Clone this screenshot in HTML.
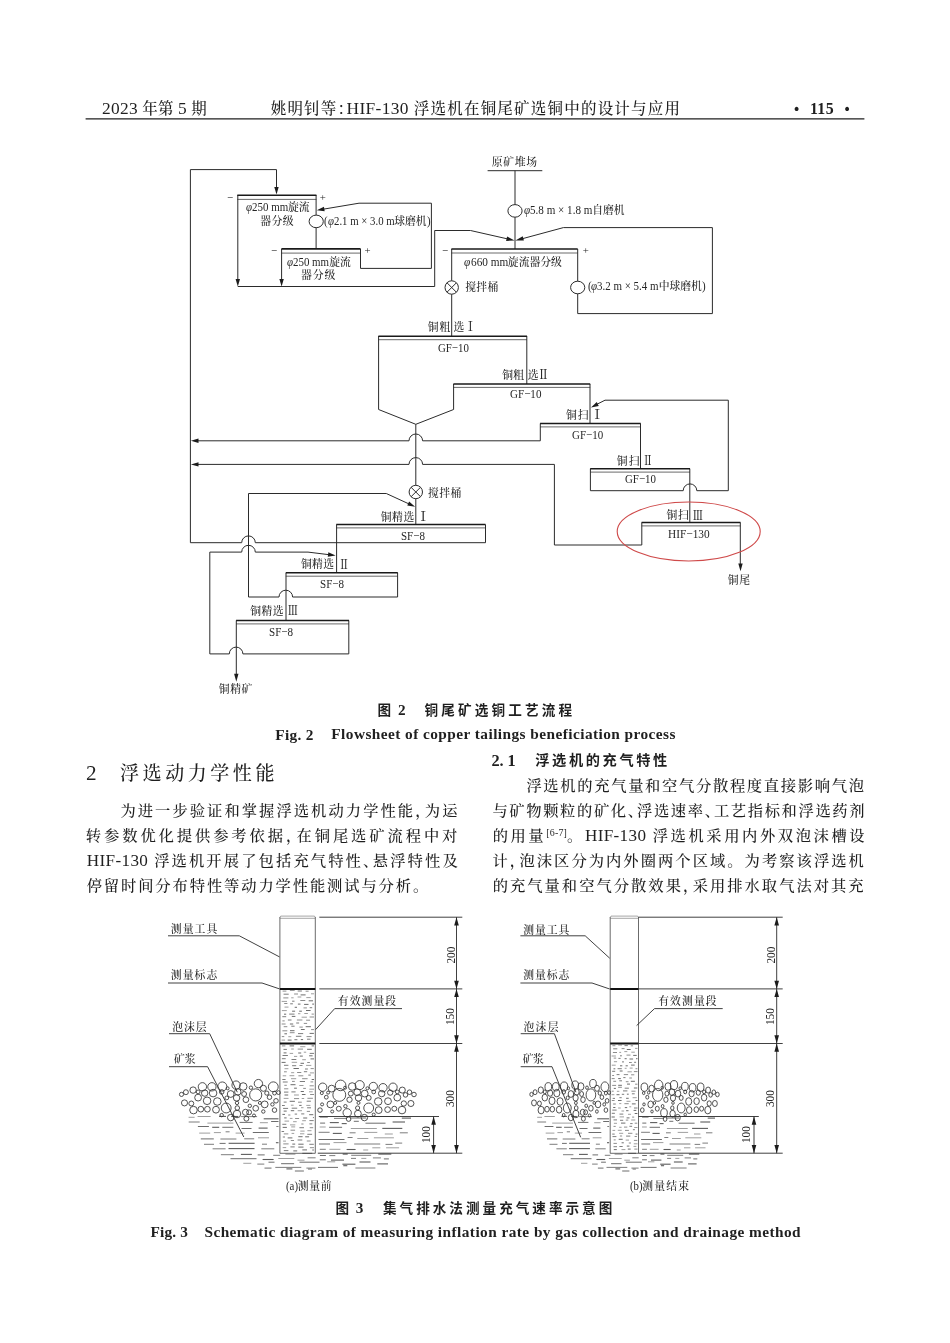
<!DOCTYPE html>
<html lang="zh-CN">
<head>
<meta charset="utf-8">
<title>HIF-130 浮选机在铜尾矿选铜中的设计与应用</title>
<style>
html,body{margin:0;padding:0;background:#fff;}
body{width:950px;height:1343px;position:relative;overflow:hidden;}
#page{position:absolute;left:0;top:0;width:950px;height:1343px;will-change:transform;}
svg{position:absolute;left:0;top:0;}

.t{position:absolute;white-space:nowrap;line-height:1;margin:0;color:#1f1f1f;}
.song{font-family:"Liberation Serif","Noto Serif CJK SC",serif;font-weight:500;}
.hei{font-family:"Liberation Serif","Noto Sans CJK SC",sans-serif;font-weight:bold;}
.serb{font-family:"Liberation Serif","Noto Serif CJK SC",serif;font-weight:bold;}
.h{font-feature-settings:"halt";}
sup{font-size:58%;line-height:0;vertical-align:0.55em;}
.la{font-size:1.12em;line-height:0;}
.lf{letter-spacing:0.02em;}
.lab{color:#262626;}
.lab .la{font-size:1.15em;display:inline-block;white-space:pre;letter-spacing:0;transform-origin:0 50%;}
i{font-style:italic;}
</style>
</head>
<body>
<div id="page">
<!-- running header -->
<div class="t song" style="left:101.95px;top:101.20px;font-size:15.5px;letter-spacing:0.300px;"><span class="la lf">2023</span> 年第 <span class="la lf">5</span> 期</div>
<div class="t song" style="left:270.70px;top:101.20px;font-size:15.5px;letter-spacing:1.210px;">姚明钊等<span class="h">：</span><span class="la lf">HIF-130</span> 浮选机在铜尾矿选铜中的设计与应用</div>
<div class="t serb" style="left:792.40px;top:98.60px;font-size:22px;"><span class="la">·</span></div>
<div class="t serb" style="left:809.90px;top:101.60px;font-size:14.2px;letter-spacing:0.400px;"><span class="la">115</span></div>
<div class="t serb" style="left:842.90px;top:98.60px;font-size:22px;"><span class="la">·</span></div>
<!-- figure 2: flowsheet -->
<svg width="950" height="700" viewBox="0 0 950 700">
<line x1="85.6" y1="118.8" x2="864.4" y2="118.8" stroke="#1f1f1f" stroke-width="1.3"/>
<g fill="none" stroke="#2b2b2b" stroke-width="1" stroke-linejoin="miter">
<path d="M485.5,524.5 V542.7 H255.30 A6.80,6.80 0 0 0 241.70,542.7 H190.4 V169.6 H276.5 V190 M237.8,195 V282 M316.1,195 V215.2 M316.1,227.6 V248.5 M360.5,249 V268.4 H431.4 V203.2 H359 L322,209.4 M281.6,249 V282 M237.8,286.5 H434.7 V230.5 H470.5 L508,239 M487.6,170.7 H542.3 M515,170.7 V204.6 M515,217.2 V249 M577.7,249 V281.2 M577.7,293.8 V313.6 H712.4 V227.6 H563.4 L522,238.8 M451.7,249 V280.8 M451.7,294.2 V336 M378.6,336 V409.5 L415.8,424.3 L453.6,409.5 V384 M526.8,336 V384 M590,384 V423 M540.3,423.5 V440.8 H422.60 A6.80,6.80 0 0 0 409.00,440.8 H197 M640.5,423.5 V468.4 M590.4,468.7 V490.7 H683.20 A6.80,6.80 0 0 1 696.80,490.7 H728.3 V400.2 H605 L595.5,405 M689.8,468.7 V522 M641.8,522.5 V545 H554.4 V464.4 H422.60 A6.80,6.80 0 0 0 409.00,464.4 H197 M740.3,522.5 V566 M415.8,424.3 V485.3 M415.8,498.7 V524 M336.6,524.5 V572.5 M397.6,572.8 V597 H292.60 A6.80,6.80 0 0 0 279.00,597 H248.5 V493.5 H386.3 L410,504.4 M286,572.8 V620 M348.8,620.5 V653.9 H242.90 A6.80,6.80 0 0 0 229.30,653.9 H209.8 V552.1 H241.70 A6.80,6.80 0 0 1 255.30,552.1 H308 L330,554.8 M236.3,620.5 V676"/>
<ellipse cx="316.2" cy="221.4" rx="7.1" ry="6.3"/>
<ellipse cx="515" cy="210.9" rx="7.1" ry="6.3"/>
<ellipse cx="577.7" cy="287.5" rx="7.1" ry="6.3"/>
<circle cx="451.7" cy="287.5" r="6.7"/><path d="M447,282.8 L456.4,292.2 M456.4,282.8 L447,292.2"/>
<circle cx="415.8" cy="492" r="6.7"/><path d="M411.1,487.3 L420.5,496.7 M420.5,487.3 L411.1,496.7"/>
</g>
<line x1="237.30" y1="195.20" x2="316.40" y2="195.20" stroke="#1a1a1a" stroke-width="1.6"/><line x1="237.30" y1="199.40" x2="316.40" y2="199.40" stroke="#2b2b2b" stroke-width="0.7"/>
<line x1="281.40" y1="248.90" x2="360.60" y2="248.90" stroke="#1a1a1a" stroke-width="1.6"/><line x1="281.40" y1="253.10" x2="360.60" y2="253.10" stroke="#2b2b2b" stroke-width="0.7"/>
<line x1="451.40" y1="249.00" x2="577.70" y2="249.00" stroke="#1a1a1a" stroke-width="1.6"/><line x1="451.40" y1="253.00" x2="577.70" y2="253.00" stroke="#2b2b2b" stroke-width="0.7"/>
<line x1="378.40" y1="336.30" x2="527.00" y2="336.30" stroke="#1a1a1a" stroke-width="1.6"/><line x1="378.40" y1="339.70" x2="527.00" y2="339.70" stroke="#2b2b2b" stroke-width="0.7"/>
<line x1="453.40" y1="384.00" x2="590.20" y2="384.00" stroke="#1a1a1a" stroke-width="1.6"/><line x1="453.40" y1="387.40" x2="590.20" y2="387.40" stroke="#2b2b2b" stroke-width="0.7"/>
<line x1="540.10" y1="423.50" x2="640.70" y2="423.50" stroke="#1a1a1a" stroke-width="1.6"/><line x1="540.10" y1="426.90" x2="640.70" y2="426.90" stroke="#2b2b2b" stroke-width="0.7"/>
<line x1="590.20" y1="468.70" x2="690.00" y2="468.70" stroke="#1a1a1a" stroke-width="1.6"/><line x1="590.20" y1="472.10" x2="690.00" y2="472.10" stroke="#2b2b2b" stroke-width="0.7"/>
<line x1="641.60" y1="522.50" x2="740.50" y2="522.50" stroke="#1a1a1a" stroke-width="1.6"/><line x1="641.60" y1="525.90" x2="740.50" y2="525.90" stroke="#2b2b2b" stroke-width="0.7"/>
<line x1="336.30" y1="524.50" x2="485.50" y2="524.50" stroke="#1a1a1a" stroke-width="1.6"/><line x1="336.30" y1="527.90" x2="485.50" y2="527.90" stroke="#2b2b2b" stroke-width="0.7"/>
<line x1="285.80" y1="572.80" x2="397.80" y2="572.80" stroke="#1a1a1a" stroke-width="1.6"/><line x1="285.80" y1="576.20" x2="397.80" y2="576.20" stroke="#2b2b2b" stroke-width="0.7"/>
<line x1="236.10" y1="620.50" x2="349.00" y2="620.50" stroke="#1a1a1a" stroke-width="1.6"/><line x1="236.10" y1="623.90" x2="349.00" y2="623.90" stroke="#2b2b2b" stroke-width="0.7"/>
<polygon points="276.50,194.60 274.30,187.00 278.70,187.00" fill="#1c1c1c"/>
<polygon points="237.80,286.50 235.60,278.90 240.00,278.90" fill="#1c1c1c"/>
<polygon points="316.80,210.30 323.93,206.87 324.66,211.21" fill="#1c1c1c"/>
<polygon points="281.60,286.50 279.40,278.90 283.80,278.90" fill="#1c1c1c"/>
<polygon points="514.60,240.50 506.09,240.93 507.11,236.44" fill="#1c1c1c"/>
<polygon points="515.40,240.50 522.72,236.15 523.92,240.59" fill="#1c1c1c"/>
<polygon points="190.90,440.80 198.50,438.60 198.50,443.00" fill="#1c1c1c"/>
<polygon points="591.00,407.40 596.75,401.97 598.76,405.88" fill="#1c1c1c"/>
<polygon points="190.90,464.40 198.50,462.20 198.50,466.60" fill="#1c1c1c"/>
<polygon points="740.50,571.30 738.30,563.50 742.70,563.50" fill="#1c1c1c"/>
<polygon points="415.10,506.80 407.28,505.61 409.12,501.62" fill="#1c1c1c"/>
<polygon points="335.60,555.40 327.79,556.68 328.31,552.31" fill="#1c1c1c"/>
<polygon points="236.30,681.80 234.10,673.80 238.50,673.80" fill="#1c1c1c"/>
<ellipse cx="688.7" cy="531.5" rx="71.5" ry="29.5" fill="none" stroke="#cf4a4a" stroke-width="1.1"/>
</svg>
<div class="t song lab" style="left:491.70px;top:156.50px;font-size:10.8px;letter-spacing:0.733px;">原矿堆场</div>
<div class="t song lab" style="left:523.70px;top:205.20px;font-size:10.8px;"><i><span class="la" style="width:6.15px;transform:scaleX(0.8950)">φ</span></i><span class="la" style="width:62.40px;transform:scaleX(0.8950)">5.8 m × 1.8 m</span>自磨机</div>
<div class="t song lab" style="left:245.75px;top:202.30px;font-size:10.8px;"><i><span class="la" style="width:6.06px;transform:scaleX(0.8820)">φ</span></i><span class="la" style="width:36.18px;transform:scaleX(0.8820)">250 mm</span>旋流</div>
<div class="t song lab" style="left:260.20px;top:215.80px;font-size:10.8px;letter-spacing:0.500px;">器分级</div>
<div class="t song lab" style="left:324.05px;top:215.50px;font-size:10.8px;"><span class="la" style="width:3.60px;transform:scaleX(0.8694)">(</span><i><span class="la" style="width:5.98px;transform:scaleX(0.8694)">φ</span></i><span class="la" style="width:60.61px;transform:scaleX(0.8694)">2.1 m × 3.0 m</span>球磨机<span class="la" style="width:3.60px;transform:scaleX(0.8694)">)</span></div>
<div class="t song lab" style="left:287.00px;top:256.50px;font-size:10.8px;"><i><span class="la" style="width:6.05px;transform:scaleX(0.8800)">φ</span></i><span class="la" style="width:36.09px;transform:scaleX(0.8800)">250 mm</span>旋流</div>
<div class="t song lab" style="left:301.00px;top:270.20px;font-size:10.8px;letter-spacing:1.000px;">器分级</div>
<div class="t song lab" style="left:464.35px;top:257.00px;font-size:10.8px;"><i><span class="la" style="width:6.25px;transform:scaleX(0.9089)">φ</span></i><span class="la" style="width:37.28px;transform:scaleX(0.9089)">660 mm</span>旋流器分级</div>
<div class="t song lab" style="left:465.15px;top:282.00px;font-size:10.8px;letter-spacing:0.350px;">搅拌桶</div>
<div class="t song lab" style="left:587.50px;top:281.00px;font-size:10.8px;"><span class="la" style="width:3.65px;transform:scaleX(0.8824)">(</span><i><span class="la" style="width:6.07px;transform:scaleX(0.8824)">φ</span></i><span class="la" style="width:61.52px;transform:scaleX(0.8824)">3.2 m × 5.4 m</span>中球磨机<span class="la" style="width:3.65px;transform:scaleX(0.8824)">)</span></div>
<div class="t song lab" style="left:427.65px;top:321.70px;font-size:10.8px;letter-spacing:1.100px;">铜粗</div>
<div class="t song lab" style="left:453.55px;top:321.70px;font-size:10.8px;letter-spacing:-1.150px;">选 <span class="la" style="width:10.81px;transform:scaleX(0.8700)">Ⅰ</span></div>
<div class="t song lab" style="left:437.50px;top:343.00px;font-size:10.8px;"><span class="la" style="width:30.83px;transform:scaleX(0.8743)">GF−10</span></div>
<div class="t song lab" style="left:502.30px;top:369.90px;font-size:10.8px;letter-spacing:0.200px;">铜粗</div>
<div class="t song lab" style="left:527.65px;top:369.90px;font-size:10.8px;letter-spacing:-1.650px;">选 <span class="la" style="width:10.81px;transform:scaleX(0.8700)">Ⅱ</span></div>
<div class="t song lab" style="left:510.30px;top:389.00px;font-size:10.8px;"><span class="la" style="width:31.44px;transform:scaleX(0.8914)">GF−10</span></div>
<div class="t song lab" style="left:565.95px;top:409.60px;font-size:10.8px;letter-spacing:0.900px;">铜扫</div>
<div class="t song lab" style="left:590.90px;top:410.10px;font-size:10.8px;"><span class="la" style="width:12.42px;transform:scaleX(1.0000)">Ⅰ</span></div>
<div class="t song lab" style="left:572.35px;top:430.30px;font-size:10.8px;"><span class="la" style="width:31.13px;transform:scaleX(0.8829)">GF−10</span></div>
<div class="t song lab" style="left:616.75px;top:455.50px;font-size:10.8px;letter-spacing:1.300px;">铜扫</div>
<div class="t song lab" style="left:642.70px;top:456.00px;font-size:10.8px;"><span class="la" style="width:9.69px;transform:scaleX(0.7800)">Ⅱ</span></div>
<div class="t song lab" style="left:625.05px;top:474.30px;font-size:10.8px;"><span class="la" style="width:30.93px;transform:scaleX(0.8771)">GF−10</span></div>
<div class="t song lab" style="left:666.50px;top:510.30px;font-size:10.8px;letter-spacing:0.800px;">铜扫</div>
<div class="t song lab" style="left:692.70px;top:510.80px;font-size:10.8px;"><span class="la" style="width:9.77px;transform:scaleX(0.7867)">Ⅲ</span></div>
<div class="t song lab" style="left:668.15px;top:529.10px;font-size:10.8px;"><span class="la" style="width:41.66px;transform:scaleX(0.9133)">HIF−130</span></div>
<div class="t song lab" style="left:727.80px;top:574.90px;font-size:10.8px;letter-spacing:0.600px;">铜尾</div>
<div class="t song lab" style="left:428.05px;top:487.50px;font-size:10.8px;letter-spacing:0.450px;">搅拌桶</div>
<div class="t song lab" style="left:380.70px;top:511.80px;font-size:10.8px;letter-spacing:0.600px;">铜精选</div>
<div class="t song lab" style="left:416.90px;top:512.30px;font-size:10.8px;"><span class="la" style="width:12.42px;transform:scaleX(1.0000)">Ⅰ</span></div>
<div class="t song lab" style="left:401.45px;top:530.70px;font-size:10.8px;"><span class="la" style="width:23.87px;transform:scaleX(0.8840)">SF−8</span></div>
<div class="t song lab" style="left:301.00px;top:559.00px;font-size:10.8px;letter-spacing:0.300px;">铜精选</div>
<div class="t song lab" style="left:338.65px;top:559.50px;font-size:10.8px;"><span class="la" style="width:10.06px;transform:scaleX(0.8100)">Ⅱ</span></div>
<div class="t song lab" style="left:320.10px;top:578.70px;font-size:10.8px;"><span class="la" style="width:23.98px;transform:scaleX(0.8880)">SF−8</span></div>
<div class="t song lab" style="left:250.35px;top:605.70px;font-size:10.8px;letter-spacing:0.350px;">铜精选</div>
<div class="t song lab" style="left:287.75px;top:606.20px;font-size:10.8px;"><span class="la" style="width:9.69px;transform:scaleX(0.7800)">Ⅲ</span></div>
<div class="t song lab" style="left:269.45px;top:627.10px;font-size:10.8px;"><span class="la" style="width:24.08px;transform:scaleX(0.8920)">SF−8</span></div>
<div class="t song lab" style="left:218.80px;top:683.90px;font-size:10.8px;letter-spacing:0.600px;">铜精矿</div>
<div class="t song lab" style="left:226.90px;top:192.90px;font-size:10.8px;"><span class="la" style="width:6.09px;transform:scaleX(0.8700)">−</span></div>
<div class="t song lab" style="left:319.75px;top:191.90px;font-size:10.8px;">+</div>
<div class="t song lab" style="left:270.50px;top:245.70px;font-size:10.8px;"><span class="la" style="width:6.09px;transform:scaleX(0.8700)">−</span></div>
<div class="t song lab" style="left:364.40px;top:244.70px;font-size:10.8px;">+</div>
<div class="t song lab" style="left:441.70px;top:245.70px;font-size:10.8px;"><span class="la" style="width:6.09px;transform:scaleX(0.8700)">−</span></div>
<div class="t song lab" style="left:582.70px;top:244.70px;font-size:10.8px;">+</div>
<!-- captions and body text -->
<div class="t hei" style="left:377.55px;top:703.90px;font-size:13.6px;letter-spacing:1.750px;">图 <span class="la">2</span></div>
<div class="t hei" style="left:424.40px;top:703.90px;font-size:13.6px;letter-spacing:3.175px;">铜尾矿选铜工艺流程</div>
<div class="t serb" style="left:275.30px;top:728.60px;font-size:13.7px;letter-spacing:0.320px;"><span class="la">Fig. 2</span></div>
<div class="t serb" style="left:331.30px;top:728.40px;font-size:13.7px;letter-spacing:0.441px;"><span class="la">Flowsheet of copper tailings beneficiation process</span></div>
<div class="t song" style="left:86.10px;top:763.90px;font-size:19px;"><span class="la">2</span></div>
<div class="t song" style="left:120.00px;top:764.20px;font-size:19px;letter-spacing:3.567px;">浮选动力学性能</div>
<div class="t song" style="left:120.40px;top:803.00px;font-size:15.3px;letter-spacing:2.042px;">为进一步验证和掌握浮选机动力学性能<span class="h">，</span>为运</div>
<div class="t song" style="left:85.80px;top:828.00px;font-size:15.3px;letter-spacing:2.900px;">转参数优化提供参考依据<span class="h">，</span>在铜尾选矿流程中对</div>
<div class="t song" style="left:86.85px;top:853.00px;font-size:15.3px;letter-spacing:2.106px;"><span class="la lf">HIF-130</span> 浮选机开展了包括充气特性<span class="h">、</span>悬浮特性及</div>
<div class="t song" style="left:86.70px;top:878.00px;font-size:15.3px;letter-spacing:1.874px;">停留时间分布特性等动力学性能测试与分析。</div>
<div class="t serb" style="left:491.45px;top:753.70px;font-size:14.6px;letter-spacing:-0.100px;"><span class="la">2. 1</span></div>
<div class="t hei" style="left:535.25px;top:753.30px;font-size:14.2px;letter-spacing:2.643px;">浮选机的充气特性</div>
<div class="t song" style="left:526.40px;top:778.00px;font-size:15.3px;letter-spacing:1.663px;">浮选机的充气量和空气分散程度直接影响气泡</div>
<div class="t song" style="left:492.45px;top:803.00px;font-size:15.3px;letter-spacing:1.614px;">与矿物颗粒的矿化<span class="h">、</span>浮选速率<span class="h">、</span>工艺指标和浮选药剂</div>
<div class="t song" style="left:492.65px;top:828.00px;font-size:15.3px;letter-spacing:2.569px;">的用量<sup><span class="la lf">[6-7]</span></sup>。<span class="la lf">HIF-130</span> 浮选机采用内外双泡沫槽设</div>
<div class="t song" style="left:492.45px;top:853.00px;font-size:15.3px;letter-spacing:2.024px;">计<span class="h">，</span>泡沫区分为内外圈两个区域。为考察该浮选机</div>
<div class="t song" style="left:492.65px;top:878.00px;font-size:15.3px;letter-spacing:2.005px;">的充气量和空气分散效果<span class="h">，</span>采用排水取气法对其充</div>
<!-- figure 3: schematic -->
<svg width="950" height="1343" viewBox="0 0 950 1343" style="pointer-events:none">
<g stroke="#5c5c5c" fill="none">
<line x1="188.6" y1="1117.3" x2="194.6" y2="1117.3" stroke-width="0.6"/>
<line x1="197.6" y1="1116.5" x2="210.6" y2="1116.5" stroke-width="0.6"/>
<line x1="219.0" y1="1116.4" x2="226.0" y2="1116.4" stroke-width="1.1"/>
<line x1="231.2" y1="1116.5" x2="238.2" y2="1116.5" stroke-width="1.1"/>
<line x1="241.1" y1="1116.6" x2="257.1" y2="1116.6" stroke-width="0.8"/>
<line x1="263.7" y1="1118.8" x2="278.5" y2="1118.8" stroke-width="1.1"/>
<line x1="319.8" y1="1117.4" x2="327.8" y2="1117.4" stroke-width="0.6"/>
<line x1="334.0" y1="1118.4" x2="347.0" y2="1118.4" stroke-width="0.8"/>
<line x1="350.2" y1="1118.0" x2="366.2" y2="1118.0" stroke-width="0.9"/>
<line x1="369.3" y1="1116.5" x2="395.3" y2="1116.5" stroke-width="0.6"/>
<line x1="401.8" y1="1118.1" x2="411.0" y2="1118.1" stroke-width="1.1"/>
<line x1="188.7" y1="1122.0" x2="199.7" y2="1122.0" stroke-width="0.8"/>
<line x1="207.4" y1="1123.1" x2="233.4" y2="1123.1" stroke-width="0.6"/>
<line x1="239.6" y1="1122.4" x2="252.6" y2="1122.4" stroke-width="0.9"/>
<line x1="259.9" y1="1122.7" x2="267.9" y2="1122.7" stroke-width="0.6"/>
<line x1="271.1" y1="1121.5" x2="278.5" y2="1121.5" stroke-width="0.9"/>
<line x1="320.1" y1="1123.1" x2="325.1" y2="1123.1" stroke-width="0.9"/>
<line x1="329.8" y1="1122.6" x2="338.8" y2="1122.6" stroke-width="1.1"/>
<line x1="341.7" y1="1123.6" x2="346.7" y2="1123.6" stroke-width="1.1"/>
<line x1="353.8" y1="1121.3" x2="358.8" y2="1121.3" stroke-width="0.9"/>
<line x1="365.5" y1="1123.2" x2="385.5" y2="1123.2" stroke-width="0.9"/>
<line x1="392.6" y1="1122.0" x2="405.0" y2="1122.0" stroke-width="1.1"/>
<line x1="197.9" y1="1126.5" x2="208.9" y2="1126.5" stroke-width="0.9"/>
<line x1="212.2" y1="1127.3" x2="219.2" y2="1127.3" stroke-width="1.1"/>
<line x1="222.3" y1="1127.3" x2="233.3" y2="1127.3" stroke-width="0.9"/>
<line x1="241.5" y1="1128.5" x2="251.5" y2="1128.5" stroke-width="0.9"/>
<line x1="258.6" y1="1128.1" x2="267.6" y2="1128.1" stroke-width="1.1"/>
<line x1="276.3" y1="1126.5" x2="278.5" y2="1126.5" stroke-width="0.8"/>
<line x1="319.7" y1="1127.0" x2="325.7" y2="1127.0" stroke-width="0.6"/>
<line x1="329.1" y1="1127.3" x2="342.1" y2="1127.3" stroke-width="0.9"/>
<line x1="350.8" y1="1128.5" x2="376.8" y2="1128.5" stroke-width="0.6"/>
<line x1="382.3" y1="1128.4" x2="402.3" y2="1128.4" stroke-width="1.1"/>
<line x1="199.2" y1="1133.1" x2="210.2" y2="1133.1" stroke-width="0.6"/>
<line x1="213.9" y1="1132.6" x2="220.9" y2="1132.6" stroke-width="0.6"/>
<line x1="225.6" y1="1131.8" x2="229.6" y2="1131.8" stroke-width="0.8"/>
<line x1="235.6" y1="1133.1" x2="244.6" y2="1133.1" stroke-width="0.6"/>
<line x1="252.8" y1="1132.5" x2="268.8" y2="1132.5" stroke-width="0.9"/>
<line x1="318.6" y1="1132.3" x2="329.6" y2="1132.3" stroke-width="0.8"/>
<line x1="332.8" y1="1133.4" x2="341.8" y2="1133.4" stroke-width="1.1"/>
<line x1="349.6" y1="1132.8" x2="355.6" y2="1132.8" stroke-width="0.8"/>
<line x1="364.3" y1="1132.4" x2="377.3" y2="1132.4" stroke-width="0.6"/>
<line x1="384.8" y1="1134.0" x2="392.8" y2="1134.0" stroke-width="0.6"/>
<line x1="399.8" y1="1132.8" x2="407.8" y2="1132.8" stroke-width="0.8"/>
<line x1="200.8" y1="1138.9" x2="213.8" y2="1138.9" stroke-width="0.9"/>
<line x1="220.4" y1="1139.0" x2="236.4" y2="1139.0" stroke-width="0.8"/>
<line x1="244.2" y1="1138.8" x2="254.2" y2="1138.8" stroke-width="0.8"/>
<line x1="258.0" y1="1137.8" x2="269.0" y2="1137.8" stroke-width="0.6"/>
<line x1="318.5" y1="1139.5" x2="344.5" y2="1139.5" stroke-width="0.9"/>
<line x1="347.6" y1="1137.5" x2="352.6" y2="1137.5" stroke-width="0.8"/>
<line x1="357.3" y1="1138.5" x2="368.3" y2="1138.5" stroke-width="0.6"/>
<line x1="373.9" y1="1137.8" x2="393.9" y2="1137.8" stroke-width="0.6"/>
<line x1="204.0" y1="1144.3" x2="214.0" y2="1144.3" stroke-width="0.8"/>
<line x1="219.6" y1="1143.4" x2="225.6" y2="1143.4" stroke-width="0.9"/>
<line x1="228.6" y1="1143.3" x2="254.6" y2="1143.3" stroke-width="1.1"/>
<line x1="262.0" y1="1144.2" x2="267.0" y2="1144.2" stroke-width="0.8"/>
<line x1="275.9" y1="1142.7" x2="278.5" y2="1142.7" stroke-width="1.1"/>
<line x1="319.0" y1="1144.0" x2="330.0" y2="1144.0" stroke-width="0.9"/>
<line x1="333.5" y1="1142.6" x2="346.5" y2="1142.6" stroke-width="0.6"/>
<line x1="354.2" y1="1144.0" x2="380.2" y2="1144.0" stroke-width="0.8"/>
<line x1="385.5" y1="1144.4" x2="392.5" y2="1144.4" stroke-width="0.8"/>
<line x1="395.2" y1="1143.1" x2="402.2" y2="1143.1" stroke-width="0.8"/>
<line x1="212.6" y1="1148.8" x2="225.6" y2="1148.8" stroke-width="0.8"/>
<line x1="228.5" y1="1148.6" x2="254.5" y2="1148.6" stroke-width="1.1"/>
<line x1="261.3" y1="1148.8" x2="274.3" y2="1148.8" stroke-width="0.8"/>
<line x1="319.8" y1="1149.3" x2="325.8" y2="1149.3" stroke-width="0.8"/>
<line x1="329.4" y1="1149.3" x2="340.4" y2="1149.3" stroke-width="0.6"/>
<line x1="346.6" y1="1149.5" x2="355.6" y2="1149.5" stroke-width="1.1"/>
<line x1="363.2" y1="1150.0" x2="368.2" y2="1150.0" stroke-width="0.6"/>
<line x1="372.3" y1="1147.8" x2="380.3" y2="1147.8" stroke-width="0.6"/>
<line x1="386.1" y1="1147.8" x2="399.1" y2="1147.8" stroke-width="0.6"/>
<line x1="220.9" y1="1154.7" x2="233.9" y2="1154.7" stroke-width="0.8"/>
<line x1="240.9" y1="1154.4" x2="251.9" y2="1154.4" stroke-width="1.1"/>
<line x1="257.7" y1="1154.9" x2="264.7" y2="1154.9" stroke-width="0.9"/>
<line x1="273.2" y1="1155.3" x2="280.2" y2="1155.3" stroke-width="0.8"/>
<line x1="285.4" y1="1154.2" x2="295.4" y2="1154.2" stroke-width="0.6"/>
<line x1="302.3" y1="1153.3" x2="312.3" y2="1153.3" stroke-width="0.9"/>
<line x1="319.9" y1="1155.5" x2="325.9" y2="1155.5" stroke-width="0.9"/>
<line x1="329.3" y1="1155.6" x2="335.3" y2="1155.6" stroke-width="0.8"/>
<line x1="342.7" y1="1154.1" x2="347.7" y2="1154.1" stroke-width="1.1"/>
<line x1="351.2" y1="1155.3" x2="371.2" y2="1155.3" stroke-width="0.8"/>
<line x1="378.3" y1="1154.1" x2="391.3" y2="1154.1" stroke-width="1.1"/>
<line x1="230.5" y1="1158.7" x2="256.5" y2="1158.7" stroke-width="0.9"/>
<line x1="262.6" y1="1159.5" x2="273.6" y2="1159.5" stroke-width="1.1"/>
<line x1="278.3" y1="1158.5" x2="294.3" y2="1158.5" stroke-width="0.6"/>
<line x1="297.5" y1="1160.2" x2="304.5" y2="1160.2" stroke-width="0.6"/>
<line x1="307.6" y1="1157.8" x2="315.6" y2="1157.8" stroke-width="0.8"/>
<line x1="319.8" y1="1159.8" x2="325.8" y2="1159.8" stroke-width="0.9"/>
<line x1="331.0" y1="1160.1" x2="344.0" y2="1160.1" stroke-width="1.1"/>
<line x1="351.0" y1="1158.4" x2="356.0" y2="1158.4" stroke-width="0.8"/>
<line x1="361.3" y1="1158.4" x2="366.3" y2="1158.4" stroke-width="0.6"/>
<line x1="372.9" y1="1157.9" x2="380.9" y2="1157.9" stroke-width="0.8"/>
<line x1="383.9" y1="1158.9" x2="388.9" y2="1158.9" stroke-width="0.9"/>
<line x1="243.3" y1="1163.3" x2="251.3" y2="1163.3" stroke-width="0.6"/>
<line x1="257.3" y1="1164.1" x2="264.3" y2="1164.1" stroke-width="0.8"/>
<line x1="268.5" y1="1162.2" x2="274.5" y2="1162.2" stroke-width="0.9"/>
<line x1="281.1" y1="1163.7" x2="294.1" y2="1163.7" stroke-width="0.9"/>
<line x1="299.5" y1="1162.2" x2="319.5" y2="1162.2" stroke-width="0.9"/>
<line x1="327.2" y1="1161.8" x2="335.2" y2="1161.8" stroke-width="0.6"/>
<line x1="342.4" y1="1164.2" x2="355.4" y2="1164.2" stroke-width="1.1"/>
<line x1="359.5" y1="1162.0" x2="370.5" y2="1162.0" stroke-width="1.1"/>
<line x1="377.3" y1="1163.9" x2="388.0" y2="1163.9" stroke-width="1.1"/>
<line x1="264.5" y1="1168.1" x2="271.5" y2="1168.1" stroke-width="0.9"/>
<line x1="275.3" y1="1167.4" x2="301.3" y2="1167.4" stroke-width="0.8"/>
<line x1="306.4" y1="1168.1" x2="315.4" y2="1168.1" stroke-width="0.8"/>
<line x1="318.0" y1="1167.4" x2="338.0" y2="1167.4" stroke-width="0.9"/>
<line x1="343.3" y1="1165.7" x2="347.3" y2="1165.7" stroke-width="1.1"/>
<line x1="355.4" y1="1168.0" x2="375.4" y2="1168.0" stroke-width="0.8"/>
<line x1="286.4" y1="1168.9" x2="292.4" y2="1168.9" stroke-width="1.1"/>
<line x1="294.9" y1="1171.0" x2="303.9" y2="1171.0" stroke-width="0.9"/>
<line x1="308.0" y1="1169.1" x2="312.0" y2="1169.1" stroke-width="0.8"/>
<line x1="282.6" y1="991.1" x2="286.4" y2="991.1" stroke-width="0.7"/>
<line x1="289.9" y1="990.5" x2="294.7" y2="990.5" stroke-width="0.6"/>
<line x1="297.7" y1="991.0" x2="301.9" y2="991.0" stroke-width="0.8"/>
<line x1="305.6" y1="991.2" x2="308.6" y2="991.2" stroke-width="0.7"/>
<line x1="283.6" y1="994.2" x2="288.7" y2="994.2" stroke-width="0.8"/>
<line x1="294.1" y1="994.0" x2="298.0" y2="994.0" stroke-width="0.7"/>
<line x1="300.6" y1="994.9" x2="305.6" y2="994.9" stroke-width="0.9"/>
<line x1="311.0" y1="993.8" x2="314.0" y2="993.8" stroke-width="0.6"/>
<line x1="283.3" y1="997.9" x2="288.4" y2="997.9" stroke-width="0.7"/>
<line x1="291.2" y1="997.8" x2="293.6" y2="997.8" stroke-width="0.6"/>
<line x1="297.6" y1="997.0" x2="301.3" y2="997.0" stroke-width="0.6"/>
<line x1="306.3" y1="997.6" x2="310.7" y2="997.6" stroke-width="0.6"/>
<line x1="281.7" y1="1001.4" x2="287.0" y2="1001.4" stroke-width="0.6"/>
<line x1="292.1" y1="1001.2" x2="294.5" y2="1001.2" stroke-width="0.8"/>
<line x1="300.3" y1="1000.5" x2="305.3" y2="1000.5" stroke-width="0.7"/>
<line x1="308.7" y1="1000.8" x2="313.0" y2="1000.8" stroke-width="0.9"/>
<line x1="284.2" y1="1003.5" x2="287.4" y2="1003.5" stroke-width="0.7"/>
<line x1="290.2" y1="1003.8" x2="292.9" y2="1003.8" stroke-width="0.8"/>
<line x1="297.9" y1="1004.1" x2="300.5" y2="1004.1" stroke-width="0.9"/>
<line x1="304.1" y1="1004.4" x2="308.5" y2="1004.4" stroke-width="0.9"/>
<line x1="312.2" y1="1004.1" x2="314.0" y2="1004.1" stroke-width="0.9"/>
<line x1="284.5" y1="1007.1" x2="288.5" y2="1007.1" stroke-width="0.6"/>
<line x1="294.7" y1="1007.3" x2="297.0" y2="1007.3" stroke-width="0.9"/>
<line x1="303.5" y1="1007.9" x2="306.9" y2="1007.9" stroke-width="0.7"/>
<line x1="309.7" y1="1007.7" x2="312.2" y2="1007.7" stroke-width="0.8"/>
<line x1="281.9" y1="1010.6" x2="286.8" y2="1010.6" stroke-width="0.6"/>
<line x1="292.1" y1="1011.2" x2="295.1" y2="1011.2" stroke-width="0.9"/>
<line x1="299.2" y1="1011.2" x2="301.9" y2="1011.2" stroke-width="0.9"/>
<line x1="306.0" y1="1010.5" x2="310.6" y2="1010.5" stroke-width="0.9"/>
<line x1="284.0" y1="1014.2" x2="286.2" y2="1014.2" stroke-width="0.9"/>
<line x1="289.2" y1="1014.1" x2="294.5" y2="1014.1" stroke-width="0.8"/>
<line x1="298.0" y1="1013.7" x2="300.4" y2="1013.7" stroke-width="0.6"/>
<line x1="304.3" y1="1013.5" x2="307.9" y2="1013.5" stroke-width="0.6"/>
<line x1="311.6" y1="1014.1" x2="313.9" y2="1014.1" stroke-width="0.7"/>
<line x1="282.3" y1="1016.7" x2="286.2" y2="1016.7" stroke-width="0.8"/>
<line x1="291.8" y1="1016.4" x2="295.4" y2="1016.4" stroke-width="0.9"/>
<line x1="301.6" y1="1017.2" x2="306.9" y2="1017.2" stroke-width="0.6"/>
<line x1="309.6" y1="1017.0" x2="314.0" y2="1017.0" stroke-width="0.7"/>
<line x1="282.4" y1="1020.9" x2="284.7" y2="1020.9" stroke-width="0.7"/>
<line x1="287.9" y1="1020.0" x2="291.5" y2="1020.0" stroke-width="0.8"/>
<line x1="296.9" y1="1020.0" x2="302.4" y2="1020.0" stroke-width="0.7"/>
<line x1="306.1" y1="1020.2" x2="310.1" y2="1020.2" stroke-width="0.7"/>
<line x1="281.7" y1="1024.0" x2="285.6" y2="1024.0" stroke-width="0.7"/>
<line x1="289.9" y1="1024.0" x2="293.2" y2="1024.0" stroke-width="0.9"/>
<line x1="296.2" y1="1023.0" x2="299.1" y2="1023.0" stroke-width="0.8"/>
<line x1="303.8" y1="1023.4" x2="307.1" y2="1023.4" stroke-width="0.7"/>
<line x1="283.7" y1="1026.7" x2="287.3" y2="1026.7" stroke-width="0.7"/>
<line x1="291.3" y1="1026.2" x2="294.6" y2="1026.2" stroke-width="0.8"/>
<line x1="299.4" y1="1027.1" x2="302.8" y2="1027.1" stroke-width="0.7"/>
<line x1="305.7" y1="1026.7" x2="310.9" y2="1026.7" stroke-width="0.9"/>
<line x1="282.4" y1="1030.8" x2="287.3" y2="1030.8" stroke-width="0.7"/>
<line x1="290.0" y1="1030.7" x2="294.5" y2="1030.7" stroke-width="0.9"/>
<line x1="300.9" y1="1029.5" x2="304.7" y2="1029.5" stroke-width="0.9"/>
<line x1="311.1" y1="1029.6" x2="314.0" y2="1029.6" stroke-width="0.7"/>
<line x1="284.4" y1="1033.8" x2="287.0" y2="1033.8" stroke-width="0.9"/>
<line x1="289.8" y1="1032.7" x2="294.6" y2="1032.7" stroke-width="0.7"/>
<line x1="298.0" y1="1033.6" x2="303.2" y2="1033.6" stroke-width="0.8"/>
<line x1="309.6" y1="1033.4" x2="313.9" y2="1033.4" stroke-width="0.9"/>
<line x1="281.8" y1="1036.6" x2="284.3" y2="1036.6" stroke-width="0.7"/>
<line x1="288.3" y1="1036.7" x2="291.3" y2="1036.7" stroke-width="0.6"/>
<line x1="295.9" y1="1036.3" x2="301.4" y2="1036.3" stroke-width="0.8"/>
<line x1="306.5" y1="1036.6" x2="311.6" y2="1036.6" stroke-width="0.7"/>
<line x1="281.6" y1="1040.1" x2="285.1" y2="1040.1" stroke-width="0.6"/>
<line x1="287.7" y1="1040.1" x2="291.6" y2="1040.1" stroke-width="0.9"/>
<line x1="294.4" y1="1039.7" x2="297.4" y2="1039.7" stroke-width="0.8"/>
<line x1="300.8" y1="1039.6" x2="303.1" y2="1039.6" stroke-width="0.9"/>
<line x1="307.0" y1="1039.2" x2="310.5" y2="1039.2" stroke-width="0.8"/>
<line x1="281.9" y1="1045.9" x2="285.4" y2="1045.9" stroke-width="0.7"/>
<line x1="289.6" y1="1045.9" x2="294.1" y2="1045.9" stroke-width="0.9"/>
<line x1="300.2" y1="1046.7" x2="305.4" y2="1046.7" stroke-width="0.6"/>
<line x1="311.6" y1="1045.9" x2="314.0" y2="1045.9" stroke-width="0.9"/>
<line x1="283.5" y1="1049.4" x2="286.9" y2="1049.4" stroke-width="0.8"/>
<line x1="291.2" y1="1049.0" x2="293.8" y2="1049.0" stroke-width="0.6"/>
<line x1="297.7" y1="1049.1" x2="303.0" y2="1049.1" stroke-width="0.7"/>
<line x1="307.1" y1="1049.3" x2="311.8" y2="1049.3" stroke-width="0.9"/>
<line x1="283.6" y1="1052.9" x2="286.5" y2="1052.9" stroke-width="0.9"/>
<line x1="289.7" y1="1053.4" x2="293.1" y2="1053.4" stroke-width="0.6"/>
<line x1="298.2" y1="1053.0" x2="301.2" y2="1053.0" stroke-width="0.9"/>
<line x1="303.8" y1="1052.2" x2="306.2" y2="1052.2" stroke-width="0.6"/>
<line x1="309.7" y1="1053.4" x2="314.0" y2="1053.4" stroke-width="0.8"/>
<line x1="282.5" y1="1055.5" x2="287.9" y2="1055.5" stroke-width="0.8"/>
<line x1="294.0" y1="1056.4" x2="297.2" y2="1056.4" stroke-width="0.6"/>
<line x1="299.8" y1="1056.1" x2="302.8" y2="1056.1" stroke-width="0.9"/>
<line x1="309.1" y1="1055.8" x2="312.6" y2="1055.8" stroke-width="0.9"/>
<line x1="281.9" y1="1058.7" x2="285.7" y2="1058.7" stroke-width="0.8"/>
<line x1="291.5" y1="1059.5" x2="296.3" y2="1059.5" stroke-width="0.8"/>
<line x1="302.2" y1="1059.7" x2="305.9" y2="1059.7" stroke-width="0.6"/>
<line x1="310.5" y1="1058.9" x2="314.0" y2="1058.9" stroke-width="0.9"/>
<line x1="281.6" y1="1062.4" x2="285.6" y2="1062.4" stroke-width="0.9"/>
<line x1="291.7" y1="1062.3" x2="297.1" y2="1062.3" stroke-width="0.6"/>
<line x1="300.5" y1="1063.3" x2="304.0" y2="1063.3" stroke-width="0.9"/>
<line x1="307.2" y1="1062.5" x2="309.9" y2="1062.5" stroke-width="0.7"/>
<line x1="284.0" y1="1065.3" x2="288.4" y2="1065.3" stroke-width="0.8"/>
<line x1="292.1" y1="1065.7" x2="296.2" y2="1065.7" stroke-width="0.8"/>
<line x1="299.5" y1="1065.5" x2="302.5" y2="1065.5" stroke-width="0.7"/>
<line x1="306.1" y1="1065.4" x2="311.3" y2="1065.4" stroke-width="0.6"/>
<line x1="284.5" y1="1068.7" x2="288.4" y2="1068.7" stroke-width="0.6"/>
<line x1="293.5" y1="1068.5" x2="298.9" y2="1068.5" stroke-width="0.9"/>
<line x1="305.0" y1="1069.0" x2="307.9" y2="1069.0" stroke-width="0.8"/>
<line x1="310.6" y1="1068.6" x2="313.8" y2="1068.6" stroke-width="0.7"/>
<line x1="284.0" y1="1071.8" x2="286.8" y2="1071.8" stroke-width="0.7"/>
<line x1="291.1" y1="1072.7" x2="294.2" y2="1072.7" stroke-width="0.6"/>
<line x1="297.1" y1="1072.5" x2="301.3" y2="1072.5" stroke-width="0.7"/>
<line x1="303.9" y1="1071.7" x2="307.2" y2="1071.7" stroke-width="0.8"/>
<line x1="309.9" y1="1072.9" x2="314.0" y2="1072.9" stroke-width="0.6"/>
<line x1="282.7" y1="1075.8" x2="286.2" y2="1075.8" stroke-width="0.6"/>
<line x1="289.5" y1="1075.7" x2="294.3" y2="1075.7" stroke-width="0.6"/>
<line x1="298.4" y1="1075.8" x2="303.3" y2="1075.8" stroke-width="0.7"/>
<line x1="308.3" y1="1075.1" x2="310.8" y2="1075.1" stroke-width="0.8"/>
<line x1="282.3" y1="1079.5" x2="285.6" y2="1079.5" stroke-width="0.8"/>
<line x1="291.0" y1="1078.7" x2="296.2" y2="1078.7" stroke-width="0.6"/>
<line x1="302.1" y1="1078.7" x2="307.6" y2="1078.7" stroke-width="0.7"/>
<line x1="311.7" y1="1079.5" x2="314.0" y2="1079.5" stroke-width="0.9"/>
<line x1="282.8" y1="1082.0" x2="287.7" y2="1082.0" stroke-width="0.8"/>
<line x1="292.0" y1="1081.4" x2="294.8" y2="1081.4" stroke-width="0.7"/>
<line x1="299.8" y1="1081.5" x2="305.0" y2="1081.5" stroke-width="0.8"/>
<line x1="310.5" y1="1081.9" x2="313.2" y2="1081.9" stroke-width="0.7"/>
<line x1="284.3" y1="1085.3" x2="286.8" y2="1085.3" stroke-width="0.7"/>
<line x1="290.5" y1="1084.7" x2="295.5" y2="1084.7" stroke-width="0.9"/>
<line x1="299.3" y1="1085.5" x2="303.5" y2="1085.5" stroke-width="0.6"/>
<line x1="309.6" y1="1085.8" x2="313.8" y2="1085.8" stroke-width="0.7"/>
<line x1="284.1" y1="1088.8" x2="288.3" y2="1088.8" stroke-width="0.7"/>
<line x1="294.1" y1="1088.2" x2="296.9" y2="1088.2" stroke-width="0.9"/>
<line x1="303.2" y1="1088.4" x2="305.9" y2="1088.4" stroke-width="0.7"/>
<line x1="309.4" y1="1089.2" x2="314.0" y2="1089.2" stroke-width="0.6"/>
<line x1="284.0" y1="1092.1" x2="288.4" y2="1092.1" stroke-width="0.8"/>
<line x1="291.4" y1="1091.9" x2="295.6" y2="1091.9" stroke-width="0.8"/>
<line x1="300.7" y1="1091.5" x2="303.9" y2="1091.5" stroke-width="0.9"/>
<line x1="309.0" y1="1091.8" x2="312.7" y2="1091.8" stroke-width="0.6"/>
<line x1="284.5" y1="1095.0" x2="288.2" y2="1095.0" stroke-width="0.9"/>
<line x1="294.0" y1="1095.0" x2="298.9" y2="1095.0" stroke-width="0.6"/>
<line x1="301.9" y1="1094.5" x2="305.5" y2="1094.5" stroke-width="0.9"/>
<line x1="310.1" y1="1094.5" x2="314.0" y2="1094.5" stroke-width="0.7"/>
<line x1="283.7" y1="1098.4" x2="288.5" y2="1098.4" stroke-width="0.6"/>
<line x1="294.0" y1="1098.6" x2="299.1" y2="1098.6" stroke-width="0.7"/>
<line x1="301.7" y1="1098.5" x2="304.2" y2="1098.5" stroke-width="0.6"/>
<line x1="307.4" y1="1098.3" x2="312.9" y2="1098.3" stroke-width="0.7"/>
<line x1="283.7" y1="1102.1" x2="286.6" y2="1102.1" stroke-width="0.8"/>
<line x1="289.7" y1="1101.3" x2="294.9" y2="1101.3" stroke-width="0.9"/>
<line x1="298.0" y1="1102.2" x2="301.8" y2="1102.2" stroke-width="0.7"/>
<line x1="306.7" y1="1101.2" x2="310.9" y2="1101.2" stroke-width="0.8"/>
<line x1="282.0" y1="1105.5" x2="284.8" y2="1105.5" stroke-width="0.8"/>
<line x1="290.9" y1="1105.2" x2="293.6" y2="1105.2" stroke-width="0.6"/>
<line x1="299.2" y1="1105.4" x2="301.6" y2="1105.4" stroke-width="0.9"/>
<line x1="306.3" y1="1105.4" x2="310.4" y2="1105.4" stroke-width="0.6"/>
<line x1="283.1" y1="1108.4" x2="288.1" y2="1108.4" stroke-width="0.8"/>
<line x1="291.7" y1="1108.2" x2="297.2" y2="1108.2" stroke-width="0.8"/>
<line x1="301.0" y1="1107.7" x2="303.5" y2="1107.7" stroke-width="0.6"/>
<line x1="307.1" y1="1107.8" x2="311.0" y2="1107.8" stroke-width="0.8"/>
<line x1="283.7" y1="1111.1" x2="286.7" y2="1111.1" stroke-width="0.9"/>
<line x1="290.8" y1="1110.7" x2="294.2" y2="1110.7" stroke-width="0.9"/>
<line x1="297.7" y1="1110.7" x2="302.0" y2="1110.7" stroke-width="0.6"/>
<line x1="306.8" y1="1111.4" x2="310.0" y2="1111.4" stroke-width="0.7"/>
<line x1="282.4" y1="1114.4" x2="285.0" y2="1114.4" stroke-width="0.9"/>
<line x1="288.2" y1="1115.0" x2="290.4" y2="1115.0" stroke-width="0.7"/>
<line x1="294.7" y1="1114.1" x2="297.1" y2="1114.1" stroke-width="0.8"/>
<line x1="301.2" y1="1113.9" x2="304.3" y2="1113.9" stroke-width="0.8"/>
<line x1="309.2" y1="1114.7" x2="313.3" y2="1114.7" stroke-width="0.9"/>
<line x1="284.2" y1="1117.9" x2="286.6" y2="1117.9" stroke-width="0.9"/>
<line x1="289.8" y1="1118.4" x2="292.5" y2="1118.4" stroke-width="0.6"/>
<line x1="295.1" y1="1118.5" x2="299.1" y2="1118.5" stroke-width="0.7"/>
<line x1="303.2" y1="1118.0" x2="307.2" y2="1118.0" stroke-width="0.9"/>
<line x1="312.9" y1="1117.6" x2="314.0" y2="1117.6" stroke-width="0.8"/>
<line x1="284.5" y1="1121.1" x2="289.1" y2="1121.1" stroke-width="0.6"/>
<line x1="293.1" y1="1121.7" x2="296.7" y2="1121.7" stroke-width="0.6"/>
<line x1="302.2" y1="1120.7" x2="305.9" y2="1120.7" stroke-width="0.6"/>
<line x1="309.4" y1="1120.6" x2="313.7" y2="1120.6" stroke-width="0.8"/>
<line x1="282.3" y1="1124.3" x2="286.3" y2="1124.3" stroke-width="0.8"/>
<line x1="290.0" y1="1124.9" x2="295.3" y2="1124.9" stroke-width="0.6"/>
<line x1="301.3" y1="1124.0" x2="303.5" y2="1124.0" stroke-width="0.7"/>
<line x1="309.4" y1="1123.9" x2="312.3" y2="1123.9" stroke-width="0.8"/>
<line x1="282.7" y1="1127.4" x2="286.9" y2="1127.4" stroke-width="0.9"/>
<line x1="291.2" y1="1126.9" x2="295.2" y2="1126.9" stroke-width="0.6"/>
<line x1="299.4" y1="1127.7" x2="304.0" y2="1127.7" stroke-width="0.8"/>
<line x1="309.7" y1="1127.7" x2="313.2" y2="1127.7" stroke-width="0.7"/>
<line x1="281.6" y1="1131.5" x2="284.1" y2="1131.5" stroke-width="0.8"/>
<line x1="290.5" y1="1130.2" x2="295.1" y2="1130.2" stroke-width="0.7"/>
<line x1="300.3" y1="1131.1" x2="304.6" y2="1131.1" stroke-width="0.6"/>
<line x1="307.4" y1="1130.7" x2="311.5" y2="1130.7" stroke-width="0.6"/>
<line x1="283.8" y1="1133.9" x2="288.3" y2="1133.9" stroke-width="0.7"/>
<line x1="291.6" y1="1133.4" x2="294.2" y2="1133.4" stroke-width="0.6"/>
<line x1="300.0" y1="1133.8" x2="304.3" y2="1133.8" stroke-width="0.6"/>
<line x1="307.3" y1="1134.3" x2="312.1" y2="1134.3" stroke-width="0.8"/>
<line x1="282.8" y1="1137.0" x2="285.0" y2="1137.0" stroke-width="0.8"/>
<line x1="287.7" y1="1137.9" x2="292.4" y2="1137.9" stroke-width="0.9"/>
<line x1="298.3" y1="1136.7" x2="302.6" y2="1136.7" stroke-width="0.9"/>
<line x1="305.2" y1="1136.8" x2="309.1" y2="1136.8" stroke-width="0.9"/>
<line x1="283.1" y1="1141.1" x2="286.0" y2="1141.1" stroke-width="0.6"/>
<line x1="290.8" y1="1140.5" x2="294.0" y2="1140.5" stroke-width="0.7"/>
<line x1="297.6" y1="1140.0" x2="302.3" y2="1140.0" stroke-width="0.8"/>
<line x1="306.8" y1="1141.0" x2="310.6" y2="1141.0" stroke-width="0.7"/>
<line x1="283.3" y1="1143.9" x2="288.6" y2="1143.9" stroke-width="0.7"/>
<line x1="292.3" y1="1144.1" x2="295.2" y2="1144.1" stroke-width="0.9"/>
<line x1="298.3" y1="1144.2" x2="303.6" y2="1144.2" stroke-width="0.9"/>
<line x1="309.3" y1="1144.3" x2="313.8" y2="1144.3" stroke-width="0.8"/>
<line x1="282.7" y1="1147.6" x2="286.2" y2="1147.6" stroke-width="0.6"/>
<line x1="290.4" y1="1146.9" x2="294.7" y2="1146.9" stroke-width="0.8"/>
<line x1="298.3" y1="1147.1" x2="303.5" y2="1147.1" stroke-width="0.9"/>
<line x1="309.9" y1="1147.7" x2="314.0" y2="1147.7" stroke-width="0.7"/>
<line x1="283.8" y1="1150.6" x2="288.4" y2="1150.6" stroke-width="0.8"/>
<line x1="293.3" y1="1150.9" x2="297.2" y2="1150.9" stroke-width="0.9"/>
<line x1="302.3" y1="1149.9" x2="307.0" y2="1149.9" stroke-width="0.9"/>
<line x1="312.2" y1="1150.0" x2="314.0" y2="1150.0" stroke-width="0.8"/>
</g>
<g stroke="#333" stroke-width="0.85" fill="none">
<ellipse cx="202.4" cy="1086.8" rx="4.17" ry="4.17"/>
<ellipse cx="211.9" cy="1086.8" rx="4.17" ry="4.17"/>
<ellipse cx="222.3" cy="1086.5" rx="4.55" ry="4.55"/>
<ellipse cx="236.1" cy="1085.1" rx="4.17" ry="4.17"/>
<ellipse cx="243.2" cy="1086.5" rx="3.79" ry="3.79"/>
<ellipse cx="258.4" cy="1083.6" rx="4.17" ry="4.17"/>
<ellipse cx="263.4" cy="1088.3" rx="3.04" ry="3.04"/>
<ellipse cx="273.3" cy="1086.8" rx="4.93" ry="4.93"/>
<ellipse cx="193.1" cy="1090.1" rx="3.22" ry="3.22"/>
<ellipse cx="185.9" cy="1092.2" rx="2.47" ry="2.47"/>
<ellipse cx="181.5" cy="1094.4" rx="2.09" ry="2.09"/>
<ellipse cx="198.1" cy="1091.9" rx="1.90" ry="1.90"/>
<ellipse cx="204.7" cy="1093.1" rx="3.22" ry="3.22"/>
<ellipse cx="213.1" cy="1093.1" rx="3.79" ry="3.79"/>
<ellipse cx="221.7" cy="1091.9" rx="2.28" ry="2.28"/>
<ellipse cx="227.6" cy="1088.3" rx="1.52" ry="1.52"/>
<ellipse cx="230.7" cy="1094.0" rx="3.41" ry="3.41"/>
<ellipse cx="237.8" cy="1091.9" rx="3.22" ry="3.22"/>
<ellipse cx="244.1" cy="1094.0" rx="2.47" ry="2.47"/>
<ellipse cx="250.9" cy="1087.7" rx="1.71" ry="1.71"/>
<ellipse cx="255.7" cy="1094.9" rx="6.07" ry="6.07"/>
<ellipse cx="266.8" cy="1093.1" rx="2.09" ry="2.09"/>
<ellipse cx="269.5" cy="1097.2" rx="2.28" ry="2.28"/>
<ellipse cx="274.5" cy="1093.1" rx="1.90" ry="1.90"/>
<ellipse cx="278.5" cy="1092.6" rx="1.90" ry="1.90"/>
<ellipse cx="276.0" cy="1100.8" rx="2.28" ry="2.28"/>
<ellipse cx="184.5" cy="1102.9" rx="3.04" ry="3.04"/>
<ellipse cx="191.3" cy="1103.5" rx="2.47" ry="2.47"/>
<ellipse cx="198.1" cy="1097.6" rx="3.41" ry="3.41"/>
<ellipse cx="207.1" cy="1100.8" rx="3.79" ry="3.79"/>
<ellipse cx="217.3" cy="1101.5" rx="3.79" ry="3.79"/>
<ellipse cx="226.8" cy="1097.9" rx="1.90" ry="1.90"/>
<ellipse cx="236.6" cy="1097.9" rx="3.22" ry="3.22"/>
<ellipse cx="237.0" cy="1102.9" rx="1.71" ry="1.71"/>
<ellipse cx="245.9" cy="1099.7" rx="2.85" ry="2.85"/>
<ellipse cx="249.8" cy="1105.8" rx="1.71" ry="1.71"/>
<ellipse cx="259.9" cy="1102.9" rx="1.52" ry="1.52"/>
<ellipse cx="264.7" cy="1104.4" rx="3.41" ry="3.41"/>
<ellipse cx="272.4" cy="1104.4" rx="1.71" ry="1.71"/>
<ellipse cx="255.7" cy="1108.3" rx="2.85" ry="2.85"/>
<ellipse cx="193.5" cy="1110.1" rx="3.79" ry="3.79"/>
<ellipse cx="200.8" cy="1109.2" rx="2.85" ry="2.85"/>
<ellipse cx="207.4" cy="1109.2" rx="2.85" ry="2.85"/>
<ellipse cx="216.0" cy="1109.7" rx="3.41" ry="3.41"/>
<ellipse cx="226.2" cy="1108.0" rx="4.93" ry="4.93"/>
<ellipse cx="237.3" cy="1108.0" rx="2.28" ry="2.28"/>
<ellipse cx="237.0" cy="1114.0" rx="3.79" ry="3.79"/>
<ellipse cx="245.5" cy="1112.3" rx="3.04" ry="3.04"/>
<ellipse cx="249.1" cy="1112.3" rx="2.47" ry="2.47"/>
<ellipse cx="254.0" cy="1115.5" rx="1.52" ry="1.52"/>
<ellipse cx="221.7" cy="1115.1" rx="1.71" ry="1.71"/>
<ellipse cx="230.7" cy="1117.6" rx="3.22" ry="3.22"/>
<ellipse cx="246.4" cy="1118.7" rx="2.47" ry="2.47"/>
<ellipse cx="263.3" cy="1111.5" rx="1.71" ry="1.71"/>
<ellipse cx="274.5" cy="1110.1" rx="2.28" ry="2.28"/>
<ellipse cx="322.7" cy="1087.2" rx="4.17" ry="4.17"/>
<ellipse cx="331.6" cy="1088.6" rx="3.41" ry="3.41"/>
<ellipse cx="340.6" cy="1085.4" rx="5.31" ry="5.31"/>
<ellipse cx="339.3" cy="1094.9" rx="6.45" ry="6.45"/>
<ellipse cx="345.1" cy="1087.7" rx="1.52" ry="1.52"/>
<ellipse cx="352.2" cy="1086.5" rx="3.79" ry="3.79"/>
<ellipse cx="359.7" cy="1085.1" rx="4.55" ry="4.55"/>
<ellipse cx="357.2" cy="1092.2" rx="3.41" ry="3.41"/>
<ellipse cx="350.8" cy="1093.6" rx="2.47" ry="2.47"/>
<ellipse cx="349.5" cy="1099.7" rx="2.66" ry="2.66"/>
<ellipse cx="358.5" cy="1097.9" rx="3.22" ry="3.22"/>
<ellipse cx="364.7" cy="1093.6" rx="3.41" ry="3.41"/>
<ellipse cx="368.7" cy="1097.9" rx="2.47" ry="2.47"/>
<ellipse cx="367.4" cy="1088.3" rx="1.52" ry="1.52"/>
<ellipse cx="373.3" cy="1086.5" rx="4.17" ry="4.17"/>
<ellipse cx="373.7" cy="1091.9" rx="1.90" ry="1.90"/>
<ellipse cx="383.0" cy="1087.7" rx="4.17" ry="4.17"/>
<ellipse cx="381.7" cy="1093.6" rx="3.22" ry="3.22"/>
<ellipse cx="390.2" cy="1092.6" rx="2.66" ry="2.66"/>
<ellipse cx="393.0" cy="1087.2" rx="4.17" ry="4.17"/>
<ellipse cx="397.3" cy="1091.9" rx="1.90" ry="1.90"/>
<ellipse cx="397.3" cy="1097.6" rx="3.41" ry="3.41"/>
<ellipse cx="402.3" cy="1090.1" rx="3.04" ry="3.04"/>
<ellipse cx="405.5" cy="1094.9" rx="2.28" ry="2.28"/>
<ellipse cx="409.5" cy="1092.2" rx="2.28" ry="2.28"/>
<ellipse cx="414.0" cy="1094.5" rx="2.28" ry="2.28"/>
<ellipse cx="321.8" cy="1093.1" rx="1.52" ry="1.52"/>
<ellipse cx="328.1" cy="1092.6" rx="1.52" ry="1.52"/>
<ellipse cx="326.3" cy="1097.2" rx="1.90" ry="1.90"/>
<ellipse cx="322.1" cy="1104.4" rx="1.52" ry="1.52"/>
<ellipse cx="330.4" cy="1104.4" rx="3.41" ry="3.41"/>
<ellipse cx="335.2" cy="1102.9" rx="1.52" ry="1.52"/>
<ellipse cx="338.8" cy="1108.7" rx="2.47" ry="2.47"/>
<ellipse cx="345.4" cy="1106.2" rx="1.71" ry="1.71"/>
<ellipse cx="332.2" cy="1111.5" rx="1.52" ry="1.52"/>
<ellipse cx="347.2" cy="1112.8" rx="4.17" ry="4.17"/>
<ellipse cx="357.6" cy="1108.0" rx="2.09" ry="2.09"/>
<ellipse cx="358.5" cy="1102.9" rx="1.52" ry="1.52"/>
<ellipse cx="357.9" cy="1113.7" rx="3.41" ry="3.41"/>
<ellipse cx="368.7" cy="1108.0" rx="4.93" ry="4.93"/>
<ellipse cx="378.2" cy="1101.5" rx="3.79" ry="3.79"/>
<ellipse cx="378.7" cy="1110.1" rx="3.41" ry="3.41"/>
<ellipse cx="388.0" cy="1101.2" rx="3.41" ry="3.41"/>
<ellipse cx="387.6" cy="1109.6" rx="2.85" ry="2.85"/>
<ellipse cx="394.3" cy="1108.7" rx="2.47" ry="2.47"/>
<ellipse cx="402.0" cy="1110.1" rx="3.79" ry="3.79"/>
<ellipse cx="403.8" cy="1103.5" rx="2.66" ry="2.66"/>
<ellipse cx="410.9" cy="1103.5" rx="3.04" ry="3.04"/>
<ellipse cx="364.4" cy="1117.6" rx="3.22" ry="3.22"/>
<ellipse cx="373.7" cy="1114.6" rx="1.52" ry="1.52"/>
<ellipse cx="348.6" cy="1119.1" rx="2.28" ry="2.28"/>
<ellipse cx="320.0" cy="1110.1" rx="2.28" ry="2.28"/>
</g>
<g stroke="#2b2b2b" fill="none">
<path d="M279.90,917 V1153.3 H315.30 V917" stroke-width="0.75" stroke="#3a3a3a"/>
<path d="M279.90,917.4 L280.70,916.1 H314.50 L315.30,917.4 M279.90,918.3 H315.30" stroke-width="0.6" stroke="#6a6a6a"/>
<path d="M279.90,988.9 H315.30 M279.90,1043.5 H315.30" stroke-width="2" stroke="#111"/>
<path d="M319.3,917.2 H462.3 M319.3,988.9 H462.3 M319.3,1043.5 H462.3 M318.8,1116.5 H439.0 M317.8,1153.2 H462.3 M456.5,917.2 V1153.2 M433.6,1116.5 V1153.2" stroke-width="0.9"/>
<path d="M168,935.8 H239.3 L279.5,956.9 M168,983 H262 L279.5,988.9 M169,1033.7 H209.7 L237.3,1092.2 M169,1066.7 H207.6 L243.8,1137 M402,1008.6 H334.7 L315.6,1029.6" stroke-width="0.9"/>
</g>
<polygon points="456.50,917.20 454.20,925.40 458.80,925.40" fill="#1c1c1c"/>
<polygon points="456.50,988.90 454.20,980.70 458.80,980.70" fill="#1c1c1c"/>
<polygon points="456.50,988.90 454.20,997.10 458.80,997.10" fill="#1c1c1c"/>
<polygon points="456.50,1043.50 454.20,1035.30 458.80,1035.30" fill="#1c1c1c"/>
<polygon points="456.50,1043.50 454.20,1051.70 458.80,1051.70" fill="#1c1c1c"/>
<polygon points="456.50,1153.20 454.20,1145.00 458.80,1145.00" fill="#1c1c1c"/>
<polygon points="433.60,1116.50 431.30,1124.70 435.90,1124.70" fill="#1c1c1c"/>
<polygon points="433.60,1153.20 431.30,1145.00 435.90,1145.00" fill="#1c1c1c"/>
<g stroke="#5c5c5c" fill="none">
<line x1="537.2" y1="1117.3" x2="542.0" y2="1117.3" stroke-width="0.6"/>
<line x1="544.4" y1="1116.5" x2="554.8" y2="1116.5" stroke-width="0.6"/>
<line x1="561.5" y1="1116.4" x2="567.1" y2="1116.4" stroke-width="1.1"/>
<line x1="571.3" y1="1116.5" x2="576.9" y2="1116.5" stroke-width="1.1"/>
<line x1="579.2" y1="1116.6" x2="592.0" y2="1116.6" stroke-width="0.8"/>
<line x1="597.2" y1="1118.8" x2="609.1" y2="1118.8" stroke-width="1.1"/>
<line x1="642.1" y1="1117.4" x2="648.5" y2="1117.4" stroke-width="0.6"/>
<line x1="653.4" y1="1118.4" x2="663.8" y2="1118.4" stroke-width="0.8"/>
<line x1="666.4" y1="1118.0" x2="679.2" y2="1118.0" stroke-width="0.9"/>
<line x1="681.7" y1="1116.5" x2="702.4" y2="1116.5" stroke-width="0.6"/>
<line x1="707.7" y1="1118.1" x2="715.0" y2="1118.1" stroke-width="1.1"/>
<line x1="537.3" y1="1122.0" x2="546.1" y2="1122.0" stroke-width="0.8"/>
<line x1="552.2" y1="1123.1" x2="573.0" y2="1123.1" stroke-width="0.6"/>
<line x1="578.0" y1="1122.4" x2="588.4" y2="1122.4" stroke-width="0.9"/>
<line x1="594.2" y1="1122.7" x2="600.6" y2="1122.7" stroke-width="0.6"/>
<line x1="603.2" y1="1121.5" x2="609.1" y2="1121.5" stroke-width="0.9"/>
<line x1="642.3" y1="1123.1" x2="646.3" y2="1123.1" stroke-width="0.9"/>
<line x1="650.1" y1="1122.6" x2="657.3" y2="1122.6" stroke-width="1.1"/>
<line x1="659.6" y1="1123.6" x2="663.6" y2="1123.6" stroke-width="1.1"/>
<line x1="669.3" y1="1121.3" x2="673.3" y2="1121.3" stroke-width="0.9"/>
<line x1="678.6" y1="1123.2" x2="694.6" y2="1123.2" stroke-width="0.9"/>
<line x1="700.3" y1="1122.0" x2="710.2" y2="1122.0" stroke-width="1.1"/>
<line x1="544.6" y1="1126.5" x2="553.4" y2="1126.5" stroke-width="0.9"/>
<line x1="556.1" y1="1127.3" x2="561.7" y2="1127.3" stroke-width="1.1"/>
<line x1="564.1" y1="1127.3" x2="572.9" y2="1127.3" stroke-width="0.9"/>
<line x1="579.5" y1="1128.5" x2="587.5" y2="1128.5" stroke-width="0.9"/>
<line x1="593.2" y1="1128.1" x2="600.4" y2="1128.1" stroke-width="1.1"/>
<line x1="607.3" y1="1126.5" x2="609.1" y2="1126.5" stroke-width="0.8"/>
<line x1="642.0" y1="1127.0" x2="646.8" y2="1127.0" stroke-width="0.6"/>
<line x1="649.6" y1="1127.3" x2="660.0" y2="1127.3" stroke-width="0.9"/>
<line x1="666.9" y1="1128.5" x2="687.7" y2="1128.5" stroke-width="0.6"/>
<line x1="692.1" y1="1128.4" x2="708.0" y2="1128.4" stroke-width="1.1"/>
<line x1="545.7" y1="1133.1" x2="554.4" y2="1133.1" stroke-width="0.6"/>
<line x1="557.4" y1="1132.6" x2="563.0" y2="1132.6" stroke-width="0.6"/>
<line x1="566.8" y1="1131.8" x2="570.0" y2="1131.8" stroke-width="0.8"/>
<line x1="574.8" y1="1133.1" x2="582.0" y2="1133.1" stroke-width="0.6"/>
<line x1="588.5" y1="1132.5" x2="601.3" y2="1132.5" stroke-width="0.9"/>
<line x1="641.1" y1="1132.3" x2="649.9" y2="1132.3" stroke-width="0.8"/>
<line x1="652.5" y1="1133.4" x2="659.7" y2="1133.4" stroke-width="1.1"/>
<line x1="666.0" y1="1132.8" x2="670.8" y2="1132.8" stroke-width="0.8"/>
<line x1="677.7" y1="1132.4" x2="688.1" y2="1132.4" stroke-width="0.6"/>
<line x1="694.0" y1="1134.0" x2="700.4" y2="1134.0" stroke-width="0.6"/>
<line x1="706.0" y1="1132.8" x2="712.4" y2="1132.8" stroke-width="0.8"/>
<line x1="547.0" y1="1138.9" x2="557.3" y2="1138.9" stroke-width="0.9"/>
<line x1="562.7" y1="1139.0" x2="575.4" y2="1139.0" stroke-width="0.8"/>
<line x1="581.6" y1="1138.8" x2="589.6" y2="1138.8" stroke-width="0.8"/>
<line x1="592.7" y1="1137.8" x2="601.5" y2="1137.8" stroke-width="0.6"/>
<line x1="641.1" y1="1139.5" x2="661.9" y2="1139.5" stroke-width="0.9"/>
<line x1="664.3" y1="1137.5" x2="668.3" y2="1137.5" stroke-width="0.8"/>
<line x1="672.0" y1="1138.5" x2="680.8" y2="1138.5" stroke-width="0.6"/>
<line x1="685.3" y1="1137.8" x2="701.3" y2="1137.8" stroke-width="0.6"/>
<line x1="549.5" y1="1144.3" x2="557.5" y2="1144.3" stroke-width="0.8"/>
<line x1="562.0" y1="1143.4" x2="566.8" y2="1143.4" stroke-width="0.9"/>
<line x1="569.2" y1="1143.3" x2="590.0" y2="1143.3" stroke-width="1.1"/>
<line x1="595.9" y1="1144.2" x2="599.9" y2="1144.2" stroke-width="0.8"/>
<line x1="607.0" y1="1142.7" x2="609.1" y2="1142.7" stroke-width="1.1"/>
<line x1="641.4" y1="1144.0" x2="650.2" y2="1144.0" stroke-width="0.9"/>
<line x1="653.0" y1="1142.6" x2="663.4" y2="1142.6" stroke-width="0.6"/>
<line x1="669.6" y1="1144.0" x2="690.4" y2="1144.0" stroke-width="0.8"/>
<line x1="694.6" y1="1144.4" x2="700.2" y2="1144.4" stroke-width="0.8"/>
<line x1="702.4" y1="1143.1" x2="708.0" y2="1143.1" stroke-width="0.8"/>
<line x1="556.4" y1="1148.8" x2="566.8" y2="1148.8" stroke-width="0.8"/>
<line x1="569.1" y1="1148.6" x2="589.9" y2="1148.6" stroke-width="1.1"/>
<line x1="595.3" y1="1148.8" x2="605.7" y2="1148.8" stroke-width="0.8"/>
<line x1="642.1" y1="1149.3" x2="646.9" y2="1149.3" stroke-width="0.8"/>
<line x1="649.8" y1="1149.3" x2="658.6" y2="1149.3" stroke-width="0.6"/>
<line x1="663.5" y1="1149.5" x2="670.7" y2="1149.5" stroke-width="1.1"/>
<line x1="676.8" y1="1150.0" x2="680.7" y2="1150.0" stroke-width="0.6"/>
<line x1="684.0" y1="1147.8" x2="690.4" y2="1147.8" stroke-width="0.6"/>
<line x1="695.1" y1="1147.8" x2="705.5" y2="1147.8" stroke-width="0.6"/>
<line x1="563.0" y1="1154.7" x2="573.4" y2="1154.7" stroke-width="0.8"/>
<line x1="579.0" y1="1154.4" x2="587.8" y2="1154.4" stroke-width="1.1"/>
<line x1="592.5" y1="1154.9" x2="598.1" y2="1154.9" stroke-width="0.9"/>
<line x1="604.8" y1="1155.3" x2="610.4" y2="1155.3" stroke-width="0.8"/>
<line x1="614.6" y1="1154.2" x2="622.6" y2="1154.2" stroke-width="0.6"/>
<line x1="628.1" y1="1153.3" x2="636.1" y2="1153.3" stroke-width="0.9"/>
<line x1="642.2" y1="1155.5" x2="646.9" y2="1155.5" stroke-width="0.9"/>
<line x1="649.7" y1="1155.6" x2="654.5" y2="1155.6" stroke-width="0.8"/>
<line x1="660.4" y1="1154.1" x2="664.4" y2="1154.1" stroke-width="1.1"/>
<line x1="667.2" y1="1155.3" x2="683.2" y2="1155.3" stroke-width="0.8"/>
<line x1="688.9" y1="1154.1" x2="699.3" y2="1154.1" stroke-width="1.1"/>
<line x1="570.7" y1="1158.7" x2="591.5" y2="1158.7" stroke-width="0.9"/>
<line x1="596.4" y1="1159.5" x2="605.2" y2="1159.5" stroke-width="1.1"/>
<line x1="608.9" y1="1158.5" x2="621.7" y2="1158.5" stroke-width="0.6"/>
<line x1="624.3" y1="1160.2" x2="629.9" y2="1160.2" stroke-width="0.6"/>
<line x1="632.3" y1="1157.8" x2="638.7" y2="1157.8" stroke-width="0.8"/>
<line x1="642.1" y1="1159.8" x2="646.9" y2="1159.8" stroke-width="0.9"/>
<line x1="651.0" y1="1160.1" x2="661.4" y2="1160.1" stroke-width="1.1"/>
<line x1="667.1" y1="1158.4" x2="671.1" y2="1158.4" stroke-width="0.8"/>
<line x1="675.3" y1="1158.4" x2="679.3" y2="1158.4" stroke-width="0.6"/>
<line x1="684.6" y1="1157.9" x2="691.0" y2="1157.9" stroke-width="0.8"/>
<line x1="693.3" y1="1158.9" x2="697.3" y2="1158.9" stroke-width="0.9"/>
<line x1="581.0" y1="1163.3" x2="587.4" y2="1163.3" stroke-width="0.6"/>
<line x1="592.1" y1="1164.1" x2="597.7" y2="1164.1" stroke-width="0.8"/>
<line x1="601.1" y1="1162.2" x2="605.9" y2="1162.2" stroke-width="0.9"/>
<line x1="611.1" y1="1163.7" x2="621.5" y2="1163.7" stroke-width="0.9"/>
<line x1="625.8" y1="1162.2" x2="641.8" y2="1162.2" stroke-width="0.9"/>
<line x1="648.0" y1="1161.8" x2="654.4" y2="1161.8" stroke-width="0.6"/>
<line x1="660.2" y1="1164.2" x2="670.6" y2="1164.2" stroke-width="1.1"/>
<line x1="673.9" y1="1162.0" x2="682.7" y2="1162.0" stroke-width="1.1"/>
<line x1="688.1" y1="1163.9" x2="696.6" y2="1163.9" stroke-width="1.1"/>
<line x1="597.9" y1="1168.1" x2="603.5" y2="1168.1" stroke-width="0.9"/>
<line x1="606.5" y1="1167.4" x2="627.3" y2="1167.4" stroke-width="0.8"/>
<line x1="631.4" y1="1168.1" x2="638.6" y2="1168.1" stroke-width="0.8"/>
<line x1="640.6" y1="1167.4" x2="656.6" y2="1167.4" stroke-width="0.9"/>
<line x1="660.9" y1="1165.7" x2="664.1" y2="1165.7" stroke-width="1.1"/>
<line x1="670.6" y1="1168.0" x2="686.6" y2="1168.0" stroke-width="0.8"/>
<line x1="615.4" y1="1168.9" x2="620.2" y2="1168.9" stroke-width="1.1"/>
<line x1="622.2" y1="1171.0" x2="629.4" y2="1171.0" stroke-width="0.9"/>
<line x1="632.6" y1="1169.1" x2="635.9" y2="1169.1" stroke-width="0.8"/>
<line x1="612.4" y1="1045.7" x2="615.4" y2="1045.7" stroke-width="0.7"/>
<line x1="618.2" y1="1045.1" x2="622.0" y2="1045.1" stroke-width="0.6"/>
<line x1="624.5" y1="1045.6" x2="627.8" y2="1045.6" stroke-width="0.8"/>
<line x1="630.7" y1="1045.8" x2="633.1" y2="1045.8" stroke-width="0.7"/>
<line x1="613.2" y1="1048.8" x2="617.3" y2="1048.8" stroke-width="0.8"/>
<line x1="621.6" y1="1048.6" x2="624.6" y2="1048.6" stroke-width="0.7"/>
<line x1="626.8" y1="1049.5" x2="630.7" y2="1049.5" stroke-width="0.9"/>
<line x1="635.1" y1="1048.4" x2="637.5" y2="1048.4" stroke-width="0.6"/>
<line x1="612.9" y1="1052.5" x2="617.0" y2="1052.5" stroke-width="0.7"/>
<line x1="619.3" y1="1052.4" x2="621.1" y2="1052.4" stroke-width="0.6"/>
<line x1="624.3" y1="1051.6" x2="627.3" y2="1051.6" stroke-width="0.6"/>
<line x1="631.3" y1="1052.2" x2="634.8" y2="1052.2" stroke-width="0.6"/>
<line x1="611.6" y1="1056.0" x2="615.9" y2="1056.0" stroke-width="0.6"/>
<line x1="620.0" y1="1055.8" x2="621.9" y2="1055.8" stroke-width="0.8"/>
<line x1="626.5" y1="1055.1" x2="630.5" y2="1055.1" stroke-width="0.7"/>
<line x1="633.2" y1="1055.4" x2="636.7" y2="1055.4" stroke-width="0.9"/>
<line x1="613.7" y1="1058.1" x2="616.2" y2="1058.1" stroke-width="0.7"/>
<line x1="618.4" y1="1058.4" x2="620.6" y2="1058.4" stroke-width="0.8"/>
<line x1="624.6" y1="1058.7" x2="626.7" y2="1058.7" stroke-width="0.9"/>
<line x1="629.5" y1="1059.0" x2="633.1" y2="1059.0" stroke-width="0.9"/>
<line x1="636.0" y1="1058.7" x2="637.5" y2="1058.7" stroke-width="0.9"/>
<line x1="613.9" y1="1061.7" x2="617.1" y2="1061.7" stroke-width="0.6"/>
<line x1="622.1" y1="1061.9" x2="623.9" y2="1061.9" stroke-width="0.9"/>
<line x1="629.0" y1="1062.5" x2="631.8" y2="1062.5" stroke-width="0.7"/>
<line x1="634.1" y1="1062.3" x2="636.1" y2="1062.3" stroke-width="0.8"/>
<line x1="611.8" y1="1065.2" x2="615.7" y2="1065.2" stroke-width="0.6"/>
<line x1="620.0" y1="1065.8" x2="622.3" y2="1065.8" stroke-width="0.9"/>
<line x1="625.6" y1="1065.8" x2="627.8" y2="1065.8" stroke-width="0.9"/>
<line x1="631.1" y1="1065.1" x2="634.7" y2="1065.1" stroke-width="0.9"/>
<line x1="613.5" y1="1068.8" x2="615.3" y2="1068.8" stroke-width="0.9"/>
<line x1="617.6" y1="1068.7" x2="621.8" y2="1068.7" stroke-width="0.8"/>
<line x1="624.7" y1="1068.3" x2="626.6" y2="1068.3" stroke-width="0.6"/>
<line x1="629.7" y1="1068.1" x2="632.6" y2="1068.1" stroke-width="0.6"/>
<line x1="635.5" y1="1068.7" x2="637.4" y2="1068.7" stroke-width="0.7"/>
<line x1="612.1" y1="1071.3" x2="615.2" y2="1071.3" stroke-width="0.8"/>
<line x1="619.7" y1="1071.0" x2="622.6" y2="1071.0" stroke-width="0.9"/>
<line x1="627.5" y1="1071.8" x2="631.8" y2="1071.8" stroke-width="0.6"/>
<line x1="633.9" y1="1071.6" x2="637.5" y2="1071.6" stroke-width="0.7"/>
<line x1="612.2" y1="1075.5" x2="614.1" y2="1075.5" stroke-width="0.7"/>
<line x1="616.6" y1="1074.6" x2="619.5" y2="1074.6" stroke-width="0.8"/>
<line x1="623.8" y1="1074.6" x2="628.1" y2="1074.6" stroke-width="0.7"/>
<line x1="631.1" y1="1074.8" x2="634.3" y2="1074.8" stroke-width="0.7"/>
<line x1="611.7" y1="1078.6" x2="614.7" y2="1078.6" stroke-width="0.7"/>
<line x1="618.2" y1="1078.6" x2="620.8" y2="1078.6" stroke-width="0.9"/>
<line x1="623.3" y1="1077.6" x2="625.5" y2="1077.6" stroke-width="0.8"/>
<line x1="629.3" y1="1078.0" x2="631.9" y2="1078.0" stroke-width="0.7"/>
<line x1="613.3" y1="1081.3" x2="616.1" y2="1081.3" stroke-width="0.7"/>
<line x1="619.3" y1="1080.8" x2="622.0" y2="1080.8" stroke-width="0.8"/>
<line x1="625.8" y1="1081.7" x2="628.5" y2="1081.7" stroke-width="0.7"/>
<line x1="630.8" y1="1081.3" x2="634.9" y2="1081.3" stroke-width="0.9"/>
<line x1="612.2" y1="1085.4" x2="616.1" y2="1085.4" stroke-width="0.7"/>
<line x1="618.2" y1="1085.3" x2="621.9" y2="1085.3" stroke-width="0.9"/>
<line x1="627.0" y1="1084.1" x2="630.0" y2="1084.1" stroke-width="0.9"/>
<line x1="635.1" y1="1084.2" x2="637.5" y2="1084.2" stroke-width="0.7"/>
<line x1="613.8" y1="1088.4" x2="615.9" y2="1088.4" stroke-width="0.9"/>
<line x1="618.1" y1="1087.3" x2="621.9" y2="1087.3" stroke-width="0.7"/>
<line x1="624.7" y1="1088.2" x2="628.9" y2="1088.2" stroke-width="0.8"/>
<line x1="633.9" y1="1088.0" x2="637.3" y2="1088.0" stroke-width="0.9"/>
<line x1="611.7" y1="1091.2" x2="613.7" y2="1091.2" stroke-width="0.7"/>
<line x1="616.9" y1="1091.3" x2="619.3" y2="1091.3" stroke-width="0.6"/>
<line x1="623.0" y1="1090.9" x2="627.4" y2="1090.9" stroke-width="0.8"/>
<line x1="631.4" y1="1091.2" x2="635.5" y2="1091.2" stroke-width="0.7"/>
<line x1="611.5" y1="1094.7" x2="614.4" y2="1094.7" stroke-width="0.6"/>
<line x1="616.5" y1="1094.7" x2="619.5" y2="1094.7" stroke-width="0.9"/>
<line x1="621.8" y1="1094.3" x2="624.2" y2="1094.3" stroke-width="0.8"/>
<line x1="626.9" y1="1094.2" x2="628.7" y2="1094.2" stroke-width="0.9"/>
<line x1="631.9" y1="1093.8" x2="634.7" y2="1093.8" stroke-width="0.8"/>
<line x1="612.7" y1="1098.4" x2="615.0" y2="1098.4" stroke-width="0.8"/>
<line x1="619.4" y1="1097.7" x2="621.7" y2="1097.7" stroke-width="0.8"/>
<line x1="626.1" y1="1098.3" x2="628.7" y2="1098.3" stroke-width="0.9"/>
<line x1="632.6" y1="1097.7" x2="636.7" y2="1097.7" stroke-width="0.6"/>
<line x1="611.8" y1="1100.5" x2="614.6" y2="1100.5" stroke-width="0.7"/>
<line x1="618.0" y1="1100.5" x2="621.6" y2="1100.5" stroke-width="0.9"/>
<line x1="626.5" y1="1101.3" x2="630.5" y2="1101.3" stroke-width="0.6"/>
<line x1="635.5" y1="1100.5" x2="637.5" y2="1100.5" stroke-width="0.9"/>
<line x1="613.1" y1="1104.0" x2="615.8" y2="1104.0" stroke-width="0.8"/>
<line x1="619.2" y1="1103.6" x2="621.3" y2="1103.6" stroke-width="0.6"/>
<line x1="624.4" y1="1103.7" x2="628.7" y2="1103.7" stroke-width="0.7"/>
<line x1="631.9" y1="1103.9" x2="635.7" y2="1103.9" stroke-width="0.9"/>
<line x1="613.2" y1="1107.5" x2="615.4" y2="1107.5" stroke-width="0.9"/>
<line x1="618.1" y1="1108.0" x2="620.8" y2="1108.0" stroke-width="0.6"/>
<line x1="624.8" y1="1107.6" x2="627.2" y2="1107.6" stroke-width="0.9"/>
<line x1="629.3" y1="1106.8" x2="631.2" y2="1106.8" stroke-width="0.6"/>
<line x1="634.0" y1="1108.0" x2="637.5" y2="1108.0" stroke-width="0.8"/>
<line x1="612.3" y1="1110.1" x2="616.6" y2="1110.1" stroke-width="0.8"/>
<line x1="621.5" y1="1111.0" x2="624.1" y2="1111.0" stroke-width="0.6"/>
<line x1="626.1" y1="1110.7" x2="628.5" y2="1110.7" stroke-width="0.9"/>
<line x1="633.6" y1="1110.4" x2="636.3" y2="1110.4" stroke-width="0.9"/>
<line x1="611.8" y1="1113.3" x2="614.9" y2="1113.3" stroke-width="0.8"/>
<line x1="619.5" y1="1114.1" x2="623.3" y2="1114.1" stroke-width="0.8"/>
<line x1="628.0" y1="1114.3" x2="631.0" y2="1114.3" stroke-width="0.6"/>
<line x1="634.7" y1="1113.5" x2="637.4" y2="1113.5" stroke-width="0.9"/>
<line x1="611.6" y1="1117.0" x2="614.8" y2="1117.0" stroke-width="0.9"/>
<line x1="619.6" y1="1116.9" x2="624.0" y2="1116.9" stroke-width="0.6"/>
<line x1="626.6" y1="1117.9" x2="629.5" y2="1117.9" stroke-width="0.9"/>
<line x1="632.1" y1="1117.1" x2="634.2" y2="1117.1" stroke-width="0.7"/>
<line x1="613.5" y1="1119.9" x2="617.0" y2="1119.9" stroke-width="0.8"/>
<line x1="620.0" y1="1120.3" x2="623.2" y2="1120.3" stroke-width="0.8"/>
<line x1="625.8" y1="1120.1" x2="628.3" y2="1120.1" stroke-width="0.7"/>
<line x1="631.2" y1="1120.0" x2="635.3" y2="1120.0" stroke-width="0.6"/>
<line x1="613.9" y1="1123.3" x2="617.0" y2="1123.3" stroke-width="0.6"/>
<line x1="621.0" y1="1123.1" x2="625.4" y2="1123.1" stroke-width="0.9"/>
<line x1="630.2" y1="1123.6" x2="632.6" y2="1123.6" stroke-width="0.8"/>
<line x1="634.7" y1="1123.2" x2="637.3" y2="1123.2" stroke-width="0.7"/>
<line x1="613.5" y1="1126.4" x2="615.7" y2="1126.4" stroke-width="0.7"/>
<line x1="619.2" y1="1127.3" x2="621.6" y2="1127.3" stroke-width="0.6"/>
<line x1="624.0" y1="1127.1" x2="627.3" y2="1127.1" stroke-width="0.7"/>
<line x1="629.4" y1="1126.3" x2="632.1" y2="1126.3" stroke-width="0.8"/>
<line x1="634.2" y1="1127.5" x2="637.5" y2="1127.5" stroke-width="0.6"/>
<line x1="612.5" y1="1130.4" x2="615.2" y2="1130.4" stroke-width="0.6"/>
<line x1="617.8" y1="1130.3" x2="621.7" y2="1130.3" stroke-width="0.6"/>
<line x1="625.0" y1="1130.4" x2="628.9" y2="1130.4" stroke-width="0.7"/>
<line x1="632.9" y1="1129.7" x2="634.9" y2="1129.7" stroke-width="0.8"/>
<line x1="612.2" y1="1134.1" x2="614.7" y2="1134.1" stroke-width="0.8"/>
<line x1="619.1" y1="1133.3" x2="623.2" y2="1133.3" stroke-width="0.6"/>
<line x1="628.0" y1="1133.3" x2="632.4" y2="1133.3" stroke-width="0.7"/>
<line x1="635.6" y1="1134.1" x2="637.5" y2="1134.1" stroke-width="0.9"/>
<line x1="612.5" y1="1136.6" x2="616.4" y2="1136.6" stroke-width="0.8"/>
<line x1="619.9" y1="1136.0" x2="622.1" y2="1136.0" stroke-width="0.7"/>
<line x1="626.1" y1="1136.1" x2="630.3" y2="1136.1" stroke-width="0.8"/>
<line x1="634.6" y1="1136.5" x2="636.9" y2="1136.5" stroke-width="0.7"/>
<line x1="613.7" y1="1139.9" x2="615.7" y2="1139.9" stroke-width="0.7"/>
<line x1="618.7" y1="1139.3" x2="622.7" y2="1139.3" stroke-width="0.9"/>
<line x1="625.7" y1="1140.1" x2="629.0" y2="1140.1" stroke-width="0.6"/>
<line x1="633.9" y1="1140.4" x2="637.3" y2="1140.4" stroke-width="0.7"/>
<line x1="613.5" y1="1143.4" x2="616.9" y2="1143.4" stroke-width="0.7"/>
<line x1="621.6" y1="1142.8" x2="623.8" y2="1142.8" stroke-width="0.9"/>
<line x1="628.8" y1="1143.0" x2="631.0" y2="1143.0" stroke-width="0.7"/>
<line x1="633.8" y1="1143.8" x2="637.5" y2="1143.8" stroke-width="0.6"/>
<line x1="613.5" y1="1146.7" x2="617.0" y2="1146.7" stroke-width="0.8"/>
<line x1="619.4" y1="1146.5" x2="622.7" y2="1146.5" stroke-width="0.8"/>
<line x1="626.8" y1="1146.1" x2="629.4" y2="1146.1" stroke-width="0.9"/>
<line x1="633.5" y1="1146.4" x2="636.4" y2="1146.4" stroke-width="0.6"/>
<line x1="613.8" y1="1149.6" x2="616.8" y2="1149.6" stroke-width="0.9"/>
<line x1="621.5" y1="1149.6" x2="625.4" y2="1149.6" stroke-width="0.6"/>
<line x1="627.8" y1="1149.1" x2="630.7" y2="1149.1" stroke-width="0.9"/>
<line x1="634.3" y1="1149.1" x2="637.5" y2="1149.1" stroke-width="0.7"/>
</g>
<g stroke="#333" stroke-width="0.85" fill="none">
<ellipse cx="548.3" cy="1086.8" rx="3.34" ry="4.17"/>
<ellipse cx="555.8" cy="1086.8" rx="3.34" ry="4.17"/>
<ellipse cx="564.1" cy="1086.5" rx="3.64" ry="4.55"/>
<ellipse cx="575.2" cy="1085.1" rx="3.34" ry="4.17"/>
<ellipse cx="580.9" cy="1086.5" rx="3.03" ry="3.79"/>
<ellipse cx="593.0" cy="1083.6" rx="3.34" ry="4.17"/>
<ellipse cx="597.0" cy="1088.3" rx="2.43" ry="3.04"/>
<ellipse cx="604.9" cy="1086.8" rx="3.94" ry="4.93"/>
<ellipse cx="540.8" cy="1090.1" rx="2.58" ry="3.22"/>
<ellipse cx="535.1" cy="1092.2" rx="1.97" ry="2.47"/>
<ellipse cx="531.5" cy="1094.4" rx="1.67" ry="2.09"/>
<ellipse cx="544.8" cy="1091.9" rx="1.52" ry="1.90"/>
<ellipse cx="550.1" cy="1093.1" rx="2.58" ry="3.22"/>
<ellipse cx="556.8" cy="1093.1" rx="3.03" ry="3.79"/>
<ellipse cx="563.7" cy="1091.9" rx="1.82" ry="2.28"/>
<ellipse cx="568.4" cy="1088.3" rx="1.21" ry="1.52"/>
<ellipse cx="570.9" cy="1094.0" rx="2.73" ry="3.41"/>
<ellipse cx="576.6" cy="1091.9" rx="2.58" ry="3.22"/>
<ellipse cx="581.6" cy="1094.0" rx="1.97" ry="2.47"/>
<ellipse cx="587.0" cy="1087.7" rx="1.36" ry="1.71"/>
<ellipse cx="590.9" cy="1094.9" rx="4.85" ry="6.07"/>
<ellipse cx="599.8" cy="1093.1" rx="1.67" ry="2.09"/>
<ellipse cx="601.9" cy="1097.2" rx="1.82" ry="2.28"/>
<ellipse cx="605.9" cy="1093.1" rx="1.52" ry="1.90"/>
<ellipse cx="609.1" cy="1092.6" rx="1.52" ry="1.90"/>
<ellipse cx="607.1" cy="1100.8" rx="1.82" ry="2.28"/>
<ellipse cx="534.0" cy="1102.9" rx="2.43" ry="3.04"/>
<ellipse cx="539.4" cy="1103.5" rx="1.97" ry="2.47"/>
<ellipse cx="544.8" cy="1097.6" rx="2.73" ry="3.41"/>
<ellipse cx="552.0" cy="1100.8" rx="3.03" ry="3.79"/>
<ellipse cx="560.1" cy="1101.5" rx="3.03" ry="3.79"/>
<ellipse cx="567.7" cy="1097.9" rx="1.52" ry="1.90"/>
<ellipse cx="575.6" cy="1097.9" rx="2.58" ry="3.22"/>
<ellipse cx="575.9" cy="1102.9" rx="1.36" ry="1.71"/>
<ellipse cx="583.0" cy="1099.7" rx="2.27" ry="2.85"/>
<ellipse cx="586.2" cy="1105.8" rx="1.36" ry="1.71"/>
<ellipse cx="594.2" cy="1102.9" rx="1.21" ry="1.52"/>
<ellipse cx="598.0" cy="1104.4" rx="2.73" ry="3.41"/>
<ellipse cx="604.2" cy="1104.4" rx="1.36" ry="1.71"/>
<ellipse cx="590.9" cy="1108.3" rx="2.27" ry="2.85"/>
<ellipse cx="541.1" cy="1110.1" rx="3.03" ry="3.79"/>
<ellipse cx="547.0" cy="1109.2" rx="2.27" ry="2.85"/>
<ellipse cx="552.3" cy="1109.2" rx="2.27" ry="2.85"/>
<ellipse cx="559.1" cy="1109.7" rx="2.73" ry="3.41"/>
<ellipse cx="567.3" cy="1108.0" rx="3.94" ry="4.93"/>
<ellipse cx="576.2" cy="1108.0" rx="1.82" ry="2.28"/>
<ellipse cx="575.9" cy="1114.0" rx="3.03" ry="3.79"/>
<ellipse cx="582.7" cy="1112.3" rx="2.43" ry="3.04"/>
<ellipse cx="585.6" cy="1112.3" rx="1.97" ry="2.47"/>
<ellipse cx="589.5" cy="1115.5" rx="1.21" ry="1.52"/>
<ellipse cx="563.7" cy="1115.1" rx="1.36" ry="1.71"/>
<ellipse cx="570.9" cy="1117.6" rx="2.58" ry="3.22"/>
<ellipse cx="583.4" cy="1118.7" rx="1.97" ry="2.47"/>
<ellipse cx="596.9" cy="1111.5" rx="1.36" ry="1.71"/>
<ellipse cx="605.9" cy="1110.1" rx="1.82" ry="2.28"/>
<ellipse cx="644.4" cy="1087.2" rx="3.34" ry="4.17"/>
<ellipse cx="651.6" cy="1088.6" rx="2.73" ry="3.41"/>
<ellipse cx="658.7" cy="1085.4" rx="4.25" ry="5.31"/>
<ellipse cx="657.7" cy="1094.9" rx="5.16" ry="6.45"/>
<ellipse cx="662.3" cy="1087.7" rx="1.21" ry="1.52"/>
<ellipse cx="668.0" cy="1086.5" rx="3.03" ry="3.79"/>
<ellipse cx="674.0" cy="1085.1" rx="3.64" ry="4.55"/>
<ellipse cx="672.0" cy="1092.2" rx="2.73" ry="3.41"/>
<ellipse cx="666.9" cy="1093.6" rx="1.97" ry="2.47"/>
<ellipse cx="665.9" cy="1099.7" rx="2.12" ry="2.66"/>
<ellipse cx="673.0" cy="1097.9" rx="2.58" ry="3.22"/>
<ellipse cx="678.0" cy="1093.6" rx="2.73" ry="3.41"/>
<ellipse cx="681.2" cy="1097.9" rx="1.97" ry="2.47"/>
<ellipse cx="680.2" cy="1088.3" rx="1.21" ry="1.52"/>
<ellipse cx="684.9" cy="1086.5" rx="3.34" ry="4.17"/>
<ellipse cx="685.2" cy="1091.9" rx="1.52" ry="1.90"/>
<ellipse cx="692.6" cy="1087.7" rx="3.34" ry="4.17"/>
<ellipse cx="691.6" cy="1093.6" rx="2.58" ry="3.22"/>
<ellipse cx="698.3" cy="1092.6" rx="2.12" ry="2.66"/>
<ellipse cx="700.6" cy="1087.2" rx="3.34" ry="4.17"/>
<ellipse cx="704.1" cy="1091.9" rx="1.52" ry="1.90"/>
<ellipse cx="704.1" cy="1097.6" rx="2.73" ry="3.41"/>
<ellipse cx="708.1" cy="1090.1" rx="2.43" ry="3.04"/>
<ellipse cx="710.6" cy="1094.9" rx="1.82" ry="2.28"/>
<ellipse cx="713.8" cy="1092.2" rx="1.82" ry="2.28"/>
<ellipse cx="717.4" cy="1094.5" rx="1.82" ry="2.28"/>
<ellipse cx="643.7" cy="1093.1" rx="1.21" ry="1.52"/>
<ellipse cx="648.7" cy="1092.6" rx="1.21" ry="1.52"/>
<ellipse cx="647.3" cy="1097.2" rx="1.52" ry="1.90"/>
<ellipse cx="644.0" cy="1104.4" rx="1.21" ry="1.52"/>
<ellipse cx="650.6" cy="1104.4" rx="2.73" ry="3.41"/>
<ellipse cx="654.4" cy="1102.9" rx="1.21" ry="1.52"/>
<ellipse cx="657.3" cy="1108.7" rx="1.97" ry="2.47"/>
<ellipse cx="662.6" cy="1106.2" rx="1.36" ry="1.71"/>
<ellipse cx="652.0" cy="1111.5" rx="1.21" ry="1.52"/>
<ellipse cx="664.0" cy="1112.8" rx="3.34" ry="4.17"/>
<ellipse cx="672.3" cy="1108.0" rx="1.67" ry="2.09"/>
<ellipse cx="673.0" cy="1102.9" rx="1.21" ry="1.52"/>
<ellipse cx="672.6" cy="1113.7" rx="2.73" ry="3.41"/>
<ellipse cx="681.2" cy="1108.0" rx="3.94" ry="4.93"/>
<ellipse cx="688.7" cy="1101.5" rx="3.03" ry="3.79"/>
<ellipse cx="689.2" cy="1110.1" rx="2.73" ry="3.41"/>
<ellipse cx="696.6" cy="1101.2" rx="2.73" ry="3.41"/>
<ellipse cx="696.3" cy="1109.6" rx="2.27" ry="2.85"/>
<ellipse cx="701.6" cy="1108.7" rx="1.97" ry="2.47"/>
<ellipse cx="707.8" cy="1110.1" rx="3.03" ry="3.79"/>
<ellipse cx="709.2" cy="1103.5" rx="2.12" ry="2.66"/>
<ellipse cx="714.9" cy="1103.5" rx="2.43" ry="3.04"/>
<ellipse cx="677.7" cy="1117.6" rx="2.58" ry="3.22"/>
<ellipse cx="685.2" cy="1114.6" rx="1.21" ry="1.52"/>
<ellipse cx="665.1" cy="1119.1" rx="1.82" ry="2.28"/>
<ellipse cx="642.3" cy="1110.1" rx="1.82" ry="2.28"/>
</g>
<g stroke="#2b2b2b" fill="none">
<path d="M610.20,917 V1153.3 H638.50 V917" stroke-width="0.75" stroke="#3a3a3a"/>
<path d="M610.20,917.4 L611.00,916.1 H637.70 L638.50,917.4 M610.20,918.3 H638.50" stroke-width="0.6" stroke="#6a6a6a"/>
<path d="M610.20,988.9 H638.50 M610.20,1043.5 H638.50" stroke-width="2" stroke="#111"/>
<path d="M638.5,917.2 H782.7 M638.5,988.9 H782.7 M638.5,1043.5 H782.7 M638.5,1116.5 H758.8 M638.5,1153.2 H782.7 M776.7,917.2 V1153.2 M754.0,1116.5 V1153.2" stroke-width="0.9"/>
<path d="M520.4,935.8 H585.2 L609.7,958.2 M520.4,983 H592 L609.7,989 M520.7,1033.7 H554.4 L575.9,1092.2 M520.7,1066.7 H552 L580.7,1137.3 M722.7,1008.6 H654.5 L636.6,1025.6" stroke-width="0.9"/>
</g>
<polygon points="776.70,917.20 774.40,925.40 779.00,925.40" fill="#1c1c1c"/>
<polygon points="776.70,988.90 774.40,980.70 779.00,980.70" fill="#1c1c1c"/>
<polygon points="776.70,988.90 774.40,997.10 779.00,997.10" fill="#1c1c1c"/>
<polygon points="776.70,1043.50 774.40,1035.30 779.00,1035.30" fill="#1c1c1c"/>
<polygon points="776.70,1043.50 774.40,1051.70 779.00,1051.70" fill="#1c1c1c"/>
<polygon points="776.70,1153.20 774.40,1145.00 779.00,1145.00" fill="#1c1c1c"/>
<polygon points="754.00,1116.50 751.70,1124.70 756.30,1124.70" fill="#1c1c1c"/>
<polygon points="754.00,1153.20 751.70,1145.00 756.30,1145.00" fill="#1c1c1c"/>
</svg>
<div class="t song lab" style="left:170.75px;top:924.30px;font-size:10.8px;letter-spacing:1.100px;">测量工具</div>
<div class="t song lab" style="left:170.75px;top:970.00px;font-size:10.8px;letter-spacing:1.100px;">测量标志</div>
<div class="t song lab" style="left:172.30px;top:1021.50px;font-size:10.8px;letter-spacing:0.900px;">泡沫层</div>
<div class="t song lab" style="left:173.95px;top:1053.50px;font-size:10.8px;letter-spacing:-0.100px;">矿浆</div>
<div class="t song lab" style="left:337.85px;top:995.70px;font-size:10.8px;letter-spacing:1.075px;">有效测量段</div>
<div class="t song lab" style="left:523.35px;top:924.50px;font-size:10.8px;letter-spacing:0.900px;">测量工具</div>
<div class="t song lab" style="left:523.35px;top:970.10px;font-size:10.8px;letter-spacing:0.900px;">测量标志</div>
<div class="t song lab" style="left:523.50px;top:1021.50px;font-size:10.8px;letter-spacing:1.300px;">泡沫层</div>
<div class="t song lab" style="left:522.75px;top:1053.70px;font-size:10.8px;letter-spacing:-0.500px;">矿浆</div>
<div class="t song lab" style="left:658.15px;top:995.50px;font-size:10.8px;letter-spacing:1.125px;">有效测量段</div>
<div class="t song lab" style="left:441.50px;top:950.00px;font-size:11.2px;transform-origin:8.50px 5.00px;transform:rotate(-90deg);"><span class="la" style="width:16.80px;transform:scaleX(0.8700)">200</span></div>
<div class="t song lab" style="left:441.00px;top:1011.20px;font-size:11.2px;transform-origin:9.00px 5.00px;transform:rotate(-90deg);"><span class="la" style="width:16.80px;transform:scaleX(0.8700)">150</span></div>
<div class="t song lab" style="left:441.00px;top:1092.60px;font-size:11.2px;transform-origin:9.00px 5.00px;transform:rotate(-90deg);"><span class="la" style="width:16.80px;transform:scaleX(0.8700)">300</span></div>
<div class="t song lab" style="left:416.80px;top:1129.30px;font-size:11.2px;transform-origin:9.00px 5.00px;transform:rotate(-90deg);"><span class="la" style="width:16.80px;transform:scaleX(0.8700)">100</span></div>
<div class="t song lab" style="left:761.50px;top:950.00px;font-size:11.2px;transform-origin:8.50px 5.00px;transform:rotate(-90deg);"><span class="la" style="width:16.80px;transform:scaleX(0.8700)">200</span></div>
<div class="t song lab" style="left:761.00px;top:1011.20px;font-size:11.2px;transform-origin:9.00px 5.00px;transform:rotate(-90deg);"><span class="la" style="width:16.80px;transform:scaleX(0.8700)">150</span></div>
<div class="t song lab" style="left:761.00px;top:1092.60px;font-size:11.2px;transform-origin:9.00px 5.00px;transform:rotate(-90deg);"><span class="la" style="width:16.80px;transform:scaleX(0.8700)">300</span></div>
<div class="t song lab" style="left:737.00px;top:1129.30px;font-size:11.2px;transform-origin:9.00px 5.00px;transform:rotate(-90deg);"><span class="la" style="width:16.80px;transform:scaleX(0.8700)">100</span></div>
<div class="t song lab" style="left:285.75px;top:1181.30px;font-size:10.8px;letter-spacing:0.750px;"><span class="la" style="width:11.99px;transform:scaleX(0.8700)">(a)</span>测量前</div>
<div class="t song lab" style="left:629.75px;top:1181.30px;font-size:10.8px;letter-spacing:1.167px;"><span class="la" style="width:12.59px;transform:scaleX(0.8700)">(b)</span>测量结束</div>
<div class="t hei" style="left:335.60px;top:1201.60px;font-size:13.6px;letter-spacing:1.600px;">图 <span class="la">3</span></div>
<div class="t hei" style="left:383.00px;top:1201.60px;font-size:13.6px;letter-spacing:3.000px;">集气排水法测量充气速率示意图</div>
<div class="t serb" style="left:150.45px;top:1225.90px;font-size:13.7px;letter-spacing:0.180px;"><span class="la">Fig. 3</span></div>
<div class="t serb" style="left:204.45px;top:1225.70px;font-size:13.7px;letter-spacing:0.443px;"><span class="la">Schematic diagram of measuring inflation rate by gas collection and drainage method</span></div>
</div>
</body>
</html>
